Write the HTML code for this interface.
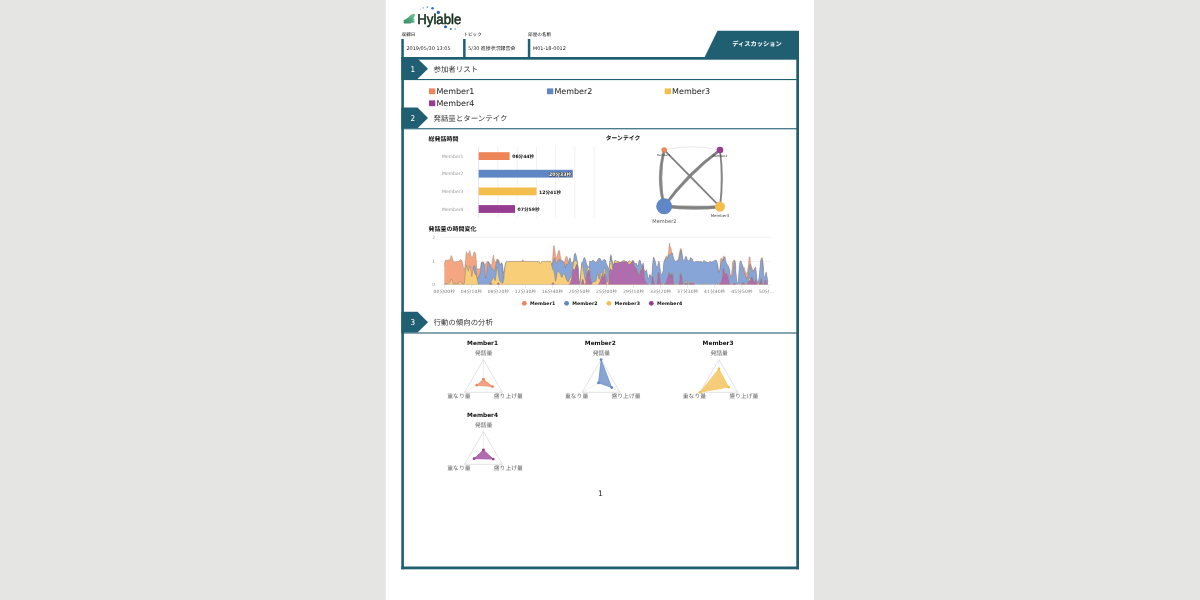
<!DOCTYPE html>
<html lang="ja"><head><meta charset="utf-8"><title>Hylable Discussion Report</title>
<style>html,body{margin:0;padding:0;background:#e5e5e3;overflow:hidden}svg text{white-space:pre;text-rendering:geometricPrecision}</style></head>
<body>
<svg width="1200" height="600" viewBox="0 0 1200 600" style="display:block">
<rect width="1200" height="600" fill="#e5e5e3"/>
<rect x="385.8" y="0" width="428.2" height="600" fill="#fff"/>
<defs><linearGradient id="fg" x1="1" y1="0" x2="0" y2="1"><stop offset="0" stop-color="#6cc79c"/><stop offset="0.55" stop-color="#3a9a6e"/><stop offset="1" stop-color="#2a7d57"/></linearGradient></defs>
<path d="M403.2,20.7 Q406,18.6 408.2,17.4 Q409.8,15.6 411.4,14.6 Q413,13.7 414.8,13.9 Q415.4,14.6 415,15.6 Q414.4,17 413.9,17.8 L413.3,19 L414.6,19.5 L414.5,20.4 L412.6,20.7 L414.8,21.5 L414.6,22.6 L411.2,22.8 L410.6,23.6 L404.2,23.5 L403.4,22.6 L404,21.6 Z" fill="url(#fg)" fill-opacity="0.92"/>
<text x="417.3" y="23.6" font-family="'Liberation Sans',sans-serif" font-weight="normal" font-size="14" fill="#17301f" stroke="#17301f" stroke-width="0.6" textLength="44" lengthAdjust="spacingAndGlyphs">Hylable</text>
<circle cx="417.8" cy="11.2" r="0.55" fill="#d5e6f5"/>
<circle cx="420.2" cy="9.4" r="0.7" fill="#c0daf0"/>
<circle cx="423.2" cy="7.9" r="0.8" fill="#8fbce6"/>
<circle cx="427.3" cy="7.1" r="0.85" fill="#5b97d8"/>
<circle cx="432.5" cy="8.3" r="1.25" fill="#2f6fc8"/>
<circle cx="438.3" cy="12.4" r="1.65" fill="#1f5fc0"/>
<circle cx="445.5" cy="26.8" r="1.5" fill="#1f5fc0"/>
<circle cx="450.8" cy="29.0" r="1.1" fill="#3d7bcc"/>
<circle cx="455.2" cy="29.1" r="0.8" fill="#7aaee0"/>
<circle cx="458" cy="27.5" r="0.7" fill="#bcd8f0"/>
<circle cx="460.2" cy="25.4" r="0.6" fill="#dceaf6"/>
<text x="401.6" y="36.4" font-family="'DejaVu Sans','Noto Sans CJK JP',sans-serif" font-size="4.6" font-weight="normal" fill="#111" text-anchor="start" >収録日</text>
<text x="406.40000000000003" y="49.7" font-family="'DejaVu Sans','Noto Sans CJK JP',sans-serif" font-size="4.95" font-weight="normal" fill="#222" text-anchor="start" >2019/05/30 13:05</text>
<rect x="401.3" y="39" width="2.5" height="19" fill="#205f72"/>
<text x="463.40000000000003" y="36.4" font-family="'DejaVu Sans','Noto Sans CJK JP',sans-serif" font-size="4.6" font-weight="normal" fill="#111" text-anchor="start" >トピック</text>
<text x="468.20000000000005" y="49.7" font-family="'DejaVu Sans','Noto Sans CJK JP',sans-serif" font-size="4.95" font-weight="normal" fill="#222" text-anchor="start" >5/30 進捗状況報告会</text>
<rect x="463.1" y="39" width="2.5" height="19" fill="#205f72"/>
<text x="528.0999999999999" y="36.4" font-family="'DejaVu Sans','Noto Sans CJK JP',sans-serif" font-size="4.6" font-weight="normal" fill="#111" text-anchor="start" >部屋の名前</text>
<text x="532.9" y="49.7" font-family="'DejaVu Sans','Noto Sans CJK JP',sans-serif" font-size="4.95" font-weight="normal" fill="#222" text-anchor="start" >M01-18-0012</text>
<rect x="527.8" y="39" width="2.5" height="19" fill="#205f72"/>
<rect x="401.3" y="57" width="397.7" height="2.7" fill="#205f72"/>
<rect x="401.3" y="57" width="2.6" height="512.3" fill="#205f72"/>
<rect x="796.3" y="31" width="2.7" height="538.3" fill="#205f72"/>
<rect x="401.3" y="566.5" width="397.7" height="2.8" fill="#205f72"/>
<polygon points="717.5,30.8 799,30.8 799,58 704.2,58" fill="#205f72"/>
<text x="757" y="45.8" font-family="'DejaVu Sans','Noto Sans CJK JP',sans-serif" font-size="6.25" font-weight="bold" fill="#fff" text-anchor="middle" >ディスカッション</text>
<polygon points="401.3,58.4 417.5,58.4 428,68.70 417.5,79.00 401.3,79.00" fill="#205f72"/>
<rect x="401.3" y="79.00" width="397.7" height="1.1" fill="#205f72"/>
<text x="412.8" y="71.7" font-family="'DejaVu Sans Condensed','DejaVu Sans',sans-serif" font-size="8.0" font-weight="normal" fill="#fff" text-anchor="middle" >1</text>
<text x="433.5" y="71.60000000000001" font-family="'DejaVu Sans','Noto Sans CJK JP',sans-serif" font-size="7.45" font-weight="normal" fill="#333" text-anchor="start" >参加者リスト</text>
<polygon points="401.3,107.6 417.5,107.6 428,117.90 417.5,128.20 401.3,128.20" fill="#205f72"/>
<rect x="401.3" y="128.20" width="397.7" height="1.1" fill="#205f72"/>
<text x="412.8" y="120.89999999999999" font-family="'DejaVu Sans Condensed','DejaVu Sans',sans-serif" font-size="8.0" font-weight="normal" fill="#fff" text-anchor="middle" >2</text>
<text x="433.5" y="120.8" font-family="'DejaVu Sans','Noto Sans CJK JP',sans-serif" font-size="7.45" font-weight="normal" fill="#333" text-anchor="start" >発話量とターンテイク</text>
<polygon points="401.3,311.85 417.5,311.85 428,322.15 417.5,332.45 401.3,332.45" fill="#205f72"/>
<rect x="401.3" y="332.45" width="397.7" height="1.1" fill="#205f72"/>
<text x="412.8" y="325.15000000000003" font-family="'DejaVu Sans Condensed','DejaVu Sans',sans-serif" font-size="8.0" font-weight="normal" fill="#fff" text-anchor="middle" >3</text>
<text x="433.5" y="325.05" font-family="'DejaVu Sans','Noto Sans CJK JP',sans-serif" font-size="7.45" font-weight="normal" fill="#333" text-anchor="start" >行動の傾向の分析</text>
<rect x="429" y="88.4" width="6.3" height="5.8" fill="#ee8558"/>
<text x="436.4" y="93.7" font-family="'DejaVu Sans','Noto Sans CJK JP',sans-serif" font-size="8.0" font-weight="normal" fill="#222" text-anchor="start" >Member1</text>
<rect x="547" y="88.4" width="6.3" height="5.8" fill="#5f87c6"/>
<text x="554.4" y="93.7" font-family="'DejaVu Sans','Noto Sans CJK JP',sans-serif" font-size="8.0" font-weight="normal" fill="#222" text-anchor="start" >Member2</text>
<rect x="664.7" y="88.4" width="6.3" height="5.8" fill="#f3be4c"/>
<text x="672.1" y="93.7" font-family="'DejaVu Sans','Noto Sans CJK JP',sans-serif" font-size="8.0" font-weight="normal" fill="#222" text-anchor="start" >Member3</text>
<rect x="429" y="100.4" width="6.3" height="5.8" fill="#963d93"/>
<text x="436.4" y="105.7" font-family="'DejaVu Sans','Noto Sans CJK JP',sans-serif" font-size="8.0" font-weight="normal" fill="#222" text-anchor="start" >Member4</text>
<text x="428.5" y="140.8" font-family="'DejaVu Sans','Noto Sans CJK JP',sans-serif" font-size="6.0" font-weight="bold" fill="#111" text-anchor="start" >総発話時間</text>
<rect x="478.30" y="146.8" width="0.7" height="70.8" fill="#d9dcef"/>
<rect x="497.55" y="146.8" width="0.7" height="70.8" fill="#ececec"/>
<rect x="516.80" y="146.8" width="0.7" height="70.8" fill="#ececec"/>
<rect x="536.05" y="146.8" width="0.7" height="70.8" fill="#ececec"/>
<rect x="555.30" y="146.8" width="0.7" height="70.8" fill="#ececec"/>
<rect x="574.55" y="146.8" width="0.7" height="70.8" fill="#ececec"/>
<rect x="593.80" y="146.8" width="0.7" height="70.8" fill="#ececec"/>
<rect x="478.7" y="152.2" width="30.9" height="7.8" fill="#ee8558"/>
<text x="442" y="157.79999999999998" font-family="'DejaVu Sans','Noto Sans CJK JP',sans-serif" font-size="4.5" font-weight="normal" fill="#999" text-anchor="start" >Member1</text>
<text x="512.2" y="158.29999999999998" font-family="'DejaVu Sans','Noto Sans CJK JP',sans-serif" font-size="4.6" font-weight="bold" fill="#111" text-anchor="start" >06分44秒</text>
<rect x="478.7" y="169.8" width="94.1" height="7.8" fill="#5f87c6"/>
<text x="442" y="175.4" font-family="'DejaVu Sans','Noto Sans CJK JP',sans-serif" font-size="4.5" font-weight="normal" fill="#999" text-anchor="start" >Member2</text>
<text x="571.0" y="175.70000000000002" font-family="'DejaVu Sans','Noto Sans CJK JP',sans-serif" font-size="4.6" font-weight="bold" fill="#fff" text-anchor="end" stroke="#333" stroke-width="0.9" paint-order="stroke" stroke-linejoin="round">20分33秒</text>
<rect x="478.7" y="187.5" width="57.8" height="7.8" fill="#f3be4c"/>
<text x="442" y="193.1" font-family="'DejaVu Sans','Noto Sans CJK JP',sans-serif" font-size="4.5" font-weight="normal" fill="#999" text-anchor="start" >Member3</text>
<text x="539.1" y="193.6" font-family="'DejaVu Sans','Noto Sans CJK JP',sans-serif" font-size="4.6" font-weight="bold" fill="#111" text-anchor="start" >12分41秒</text>
<rect x="478.7" y="205.1" width="36.3" height="7.8" fill="#963d93"/>
<text x="442" y="210.7" font-family="'DejaVu Sans','Noto Sans CJK JP',sans-serif" font-size="4.5" font-weight="normal" fill="#999" text-anchor="start" >Member4</text>
<text x="517.6" y="211.2" font-family="'DejaVu Sans','Noto Sans CJK JP',sans-serif" font-size="4.6" font-weight="bold" fill="#111" text-anchor="start" >07分59秒</text>
<text x="605.8" y="140.3" font-family="'DejaVu Sans','Noto Sans CJK JP',sans-serif" font-size="5.8" font-weight="bold" fill="#111" text-anchor="start" >ターンテイク</text>
<path d="M664.2,150.0 Q692.1,143.6 720.0,150.0" fill="none" stroke="#c8c8c8" stroke-width="0.4" stroke-opacity="1"/>
<path d="M664.2,150.0 Q658.0,178.2 664.2,206.3" fill="none" stroke="#7a7a7a" stroke-width="2.3" stroke-opacity="0.8"/>
<path d="M664.2,150.0 Q655.8,178.2 664.2,206.3" fill="none" stroke="#7a7a7a" stroke-width="2.3" stroke-opacity="0.8"/>
<path d="M720.0,150.0 Q723.0,178.3 720.0,206.7" fill="none" stroke="#7a7a7a" stroke-width="1.5" stroke-opacity="0.8"/>
<path d="M720.0,150.0 Q724.4,178.3 720.0,206.7" fill="none" stroke="#7a7a7a" stroke-width="1.5" stroke-opacity="0.8"/>
<path d="M664.2,206.3 Q692.1,207.9 720.0,206.7" fill="none" stroke="#7a7a7a" stroke-width="2.9" stroke-opacity="0.8"/>
<path d="M664.2,206.3 Q692.1,210.3 720.0,206.7" fill="none" stroke="#7a7a7a" stroke-width="2.9" stroke-opacity="0.8"/>
<path d="M664.2,150.0 Q691.7,178.8 720.0,206.7" fill="none" stroke="#7a7a7a" stroke-width="1.6" stroke-opacity="0.8"/>
<path d="M664.2,150.0 Q692.5,177.9 720.0,206.7" fill="none" stroke="#7a7a7a" stroke-width="1.6" stroke-opacity="0.8"/>
<path d="M664.2,206.3 Q688.3,174.3 720.0,150.0" fill="none" stroke="#7a7a7a" stroke-width="2.5" stroke-opacity="0.8"/>
<path d="M664.2,206.3 Q687.0,173.1 720.0,150.0" fill="none" stroke="#7a7a7a" stroke-width="2.5" stroke-opacity="0.8"/>
<circle cx="664.2" cy="150.0" r="2.8" fill="#ee8558"/>
<circle cx="720.0" cy="150.0" r="3.3" fill="#963d93"/>
<circle cx="664.2" cy="206.3" r="8" fill="#5f87c6"/>
<circle cx="720.0" cy="206.7" r="5" fill="#f3be4c"/>
<text x="652.3" y="222.6" font-family="'DejaVu Sans','Noto Sans CJK JP',sans-serif" font-size="5.3" font-weight="normal" fill="#555" text-anchor="start" textLength="24.2" lengthAdjust="spacingAndGlyphs">Member2</text>
<text x="720" y="217.3" font-family="'DejaVu Sans','Noto Sans CJK JP',sans-serif" font-size="3.9" font-weight="normal" fill="#444" text-anchor="middle" >Member3</text>
<text x="663.6" y="156.4" font-family="'DejaVu Sans','Noto Sans CJK JP',sans-serif" font-size="2.8" font-weight="normal" fill="#333" text-anchor="middle" >Member1</text>
<text x="719.8" y="157.3" font-family="'DejaVu Sans','Noto Sans CJK JP',sans-serif" font-size="3.1" font-weight="normal" fill="#333" text-anchor="middle" >Member4</text>
<text x="428.5" y="230.9" font-family="'DejaVu Sans','Noto Sans CJK JP',sans-serif" font-size="6.0" font-weight="bold" fill="#111" text-anchor="start" >発話量の時間変化</text>
<rect x="441" y="236.9" width="330" height="0.6" fill="#ececec"/>
<text x="433.8" y="239.0" font-family="'DejaVu Sans','Noto Sans CJK JP',sans-serif" font-size="4.5" font-weight="normal" fill="#999" text-anchor="middle" >2</text>
<rect x="441" y="261.2" width="330" height="0.6" fill="#ececec"/>
<text x="433.8" y="263.3" font-family="'DejaVu Sans','Noto Sans CJK JP',sans-serif" font-size="4.5" font-weight="normal" fill="#999" text-anchor="middle" >1</text>
<rect x="441" y="284.3" width="330" height="0.6" fill="#ececec"/>
<text x="433.8" y="286.40000000000003" font-family="'DejaVu Sans','Noto Sans CJK JP',sans-serif" font-size="4.5" font-weight="normal" fill="#999" text-anchor="middle" >0</text>
<polygon points="444.33,284.58 444.33,266.67 444.83,262.29 445.33,260.50 445.83,260.00 446.33,260.17 446.83,260.33 447.33,260.33 447.83,260.17 448.33,260.00 448.83,259.88 449.33,259.75 449.83,259.62 450.33,258.47 450.83,256.81 451.33,255.58 451.83,256.58 452.33,257.58 452.83,259.48 453.33,261.83 453.83,261.83 454.33,261.83 454.83,261.83 455.33,261.79 455.83,261.72 456.33,261.65 456.83,261.58 457.33,261.51 457.83,261.44 458.33,261.37 458.83,261.30 459.33,260.99 459.83,260.23 460.33,259.46 460.83,259.65 461.33,260.03 461.83,260.42 462.33,262.15 462.83,263.88 463.33,266.67 463.83,269.21 464.33,269.46 464.83,266.96 465.33,261.71 465.83,256.04 466.33,251.47 466.83,252.81 467.33,254.14 467.83,254.14 468.33,253.47 468.83,252.72 469.33,251.57 469.83,250.42 470.33,252.71 470.83,255.00 471.33,256.33 471.83,257.67 472.33,257.58 472.83,256.08 473.33,254.23 473.83,252.31 474.33,251.86 474.83,252.16 475.33,252.45 475.83,255.83 476.33,260.36 476.83,267.50 477.33,268.75 477.83,269.08 478.33,268.96 478.83,268.83 479.33,268.81 479.83,268.97 480.33,269.14 480.83,265.83 481.33,262.46 481.83,262.19 482.33,261.92 482.83,261.90 483.33,262.00 483.83,262.46 484.33,264.71 484.83,265.33 485.33,264.33 485.83,263.39 486.33,262.46 486.83,261.80 487.33,261.70 487.83,261.60 488.33,261.50 488.83,262.23 489.33,262.97 489.83,263.67 490.33,264.33 490.83,265.00 491.33,264.58 491.83,264.17 492.33,260.42 492.83,257.50 493.33,255.00 493.83,257.50 494.33,259.75 494.83,261.50 495.33,262.25 495.83,262.50 496.33,260.25 496.83,258.86 497.33,259.19 497.83,259.53 498.33,259.79 498.83,260.33 499.33,262.33 499.83,263.72 500.33,264.49 500.83,264.42 501.33,262.67 501.83,262.92 502.33,264.17 502.83,268.75 503.33,273.33 503.83,271.33 504.33,269.00 504.83,266.00 505.33,264.16 505.83,262.89 506.33,261.82 506.83,261.74 507.33,261.66 507.83,261.58 508.33,261.50 508.83,261.49 509.33,261.48 509.83,261.47 510.33,261.46 510.83,261.45 511.33,261.44 511.83,261.43 512.33,261.41 512.83,261.40 513.33,261.39 513.83,261.38 514.33,261.37 514.83,261.36 515.00,261.50 515.50,261.48 516.00,261.46 516.50,261.44 517.00,261.43 517.50,261.41 518.00,261.39 518.50,261.37 519.00,261.35 519.50,261.33 520.00,261.31 520.50,261.29 521.00,261.27 521.50,261.26 522.00,260.69 522.50,259.86 523.00,260.10 523.50,260.87 524.00,261.25 524.50,261.26 525.00,261.27 525.50,261.28 526.00,261.29 526.50,261.30 527.00,261.31 527.50,261.32 528.00,261.33 528.50,261.34 529.00,261.35 529.50,261.35 530.00,261.36 530.50,261.37 531.00,261.38 531.50,261.39 532.00,261.40 532.50,261.41 533.00,261.42 533.50,261.43 534.00,261.44 534.50,261.45 535.00,261.45 535.50,261.46 536.00,261.47 536.50,261.48 537.00,261.49 537.50,261.50 538.00,261.23 538.50,260.97 539.00,261.58 539.50,263.08 540.00,263.39 540.50,263.46 541.00,263.05 541.50,261.70 542.00,261.25 542.50,261.25 543.00,261.25 543.50,261.25 544.00,261.25 544.50,261.25 545.00,261.25 545.50,261.58 546.00,261.92 546.50,261.83 547.00,261.33 547.50,261.25 548.00,261.25 548.50,261.25 549.00,261.25 549.50,261.25 550.00,261.25 550.50,261.25 551.00,262.00 551.50,264.25 552.00,263.33 552.50,260.83 553.00,252.33 553.50,246.33 554.00,245.33 554.50,247.33 555.00,250.83 555.50,255.08 556.00,257.75 556.50,257.25 557.00,256.75 557.50,254.72 558.00,252.39 558.50,250.78 559.00,250.61 559.50,250.44 560.00,253.46 560.50,257.12 561.00,259.03 561.50,260.07 562.00,260.63 562.50,260.96 563.00,261.28 563.50,261.58 564.00,261.81 564.50,262.04 565.00,259.79 565.50,257.39 566.00,256.72 566.50,256.06 567.00,256.67 567.50,257.92 568.00,260.83 568.50,262.50 569.00,260.00 569.50,258.50 570.00,257.50 570.50,259.58 571.00,261.67 571.50,262.24 572.00,262.82 572.50,262.50 573.00,262.00 573.50,260.42 574.00,256.67 574.50,253.97 575.00,253.40 575.50,253.21 576.00,254.94 576.50,256.67 577.00,259.67 577.50,262.64 578.00,265.56 578.50,270.33 579.00,278.83 579.50,282.33 580.00,283.33 580.50,276.33 581.00,269.67 581.50,263.67 582.00,262.08 582.50,262.71 583.00,261.25 583.50,258.75 584.00,257.98 584.50,257.21 585.00,258.21 585.50,259.55 586.00,261.39 586.50,263.47 587.00,264.83 587.50,265.83 588.00,266.73 588.50,267.12 589.00,267.50 589.50,261.79 590.00,260.83 590.50,261.33 591.00,261.83 591.50,261.75 592.00,261.08 592.50,260.42 593.00,260.42 593.50,260.42 594.00,260.67 594.50,261.17 595.00,261.67 595.50,262.29 596.00,262.92 596.50,261.96 597.00,260.99 597.50,260.14 598.00,259.31 598.50,258.64 599.00,258.31 599.50,257.97 600.00,258.47 600.50,259.14 601.00,260.08 601.50,261.58 602.00,261.64 602.50,260.97 603.00,260.34 603.50,259.91 604.00,259.48 604.50,259.51 605.00,259.78 605.50,260.33 606.00,262.33 606.50,263.83 607.00,264.83 607.50,265.83 608.00,267.17 608.50,268.50 609.00,267.92 609.50,265.42 610.00,260.00 610.50,254.96 611.00,254.71 611.50,256.21 612.00,259.46 612.50,262.08 613.00,264.25 613.50,264.75 614.00,263.62 614.50,260.88 615.00,260.42 615.50,260.42 616.00,260.58 616.50,261.08 617.00,261.58 617.50,261.53 618.00,261.36 618.50,261.42 619.00,261.92 619.50,262.42 620.00,262.36 620.50,262.19 621.00,262.01 621.50,261.77 622.00,261.54 622.50,261.22 623.00,260.89 623.50,260.62 624.00,260.50 624.50,260.61 625.00,261.19 625.50,261.68 626.00,261.74 626.50,261.81 627.00,262.12 627.50,262.56 628.00,262.76 628.50,261.79 629.00,260.83 629.50,260.73 630.00,260.97 630.50,261.89 631.00,262.39 631.50,262.06 632.00,261.72 632.50,261.03 633.00,260.26 633.50,260.83 634.00,262.08 634.50,262.94 635.00,263.61 635.50,264.00 636.00,263.00 636.50,263.25 637.00,264.75 637.50,265.42 638.00,265.44 638.50,263.11 639.00,260.78 639.50,260.00 640.00,260.00 640.50,261.28 641.00,263.21 641.50,264.67 642.00,265.67 642.50,264.50 643.00,262.90 643.50,263.63 644.00,269.03 644.50,271.06 645.00,271.39 645.50,271.51 646.00,270.54 646.50,269.58 647.00,272.29 647.50,275.00 648.00,278.00 648.50,279.17 649.00,276.67 649.50,274.83 650.00,274.33 650.50,275.50 651.00,277.50 651.50,276.88 652.00,272.00 652.50,265.00 653.00,260.00 653.50,256.94 654.00,257.78 654.50,258.85 655.00,260.38 655.50,262.08 656.00,264.58 656.50,266.51 657.00,267.85 657.50,267.57 658.00,264.03 658.50,261.58 659.00,261.33 659.50,263.75 660.00,267.50 660.50,271.00 661.00,273.67 661.50,274.67 662.00,274.11 662.50,272.78 663.00,270.67 663.50,264.67 664.00,261.17 664.50,260.17 665.00,259.17 665.50,257.67 666.00,256.17 666.50,255.92 667.00,256.92 667.50,257.92 668.00,255.21 668.50,252.50 669.00,246.25 669.50,243.00 670.00,245.75 670.50,247.17 671.00,247.92 671.50,250.67 672.00,252.67 672.50,253.17 673.00,255.33 673.50,258.33 674.00,259.29 674.50,260.26 675.00,260.89 675.50,261.46 676.00,261.64 676.50,261.08 677.00,260.51 677.50,260.00 678.00,259.50 678.50,258.19 679.00,255.28 679.50,252.56 680.00,250.26 680.50,248.40 681.00,248.78 681.50,249.17 682.00,253.17 682.50,256.83 683.00,259.83 683.50,260.71 684.00,260.54 684.50,259.84 685.00,258.11 685.50,256.67 686.00,256.67 686.50,256.67 687.00,258.54 687.50,260.42 688.00,260.58 688.50,260.75 689.00,260.64 689.50,260.26 690.00,259.29 690.50,257.56 691.00,257.95 691.50,258.33 692.00,258.58 692.50,259.30 693.00,260.95 693.50,261.69 694.00,261.99 694.50,261.93 695.00,261.69 695.50,261.50 696.00,261.50 696.50,261.50 697.00,261.50 697.50,261.50 698.00,261.50 698.50,261.50 699.00,261.50 699.50,261.50 700.00,261.50 700.50,261.50 701.00,261.50 701.50,261.50 702.00,262.07 702.50,262.92 703.00,261.88 703.50,260.83 704.00,260.58 704.50,260.63 705.00,261.29 705.50,261.85 706.00,261.92 706.50,262.00 707.00,262.07 707.50,262.50 708.00,262.84 708.50,262.41 709.00,261.98 709.50,261.74 710.00,261.61 710.50,261.54 711.00,261.77 711.50,262.01 712.00,261.97 712.50,261.79 713.00,261.62 713.50,261.36 714.00,260.92 714.50,260.49 715.00,260.28 715.50,260.11 716.00,260.14 716.50,260.56 717.00,261.67 717.50,264.17 718.00,267.67 718.50,271.67 719.00,271.92 719.50,270.73 720.00,266.67 720.50,260.10 721.00,258.06 721.50,258.26 722.00,259.33 722.50,260.83 723.00,257.83 723.50,255.97 724.00,256.39 724.50,257.25 725.00,256.67 725.50,259.67 726.00,262.00 726.50,263.00 727.00,264.00 727.50,264.72 728.00,265.39 728.50,266.25 729.00,267.50 729.50,269.67 730.00,273.67 730.50,276.04 731.00,276.33 731.50,274.08 732.00,268.33 732.50,262.85 733.00,261.39 733.50,260.36 734.00,260.19 734.50,260.03 735.00,260.83 735.50,263.10 736.00,271.67 736.50,277.67 737.00,282.19 737.50,283.75 738.00,282.00 738.50,278.17 739.00,270.17 739.50,265.00 740.00,261.25 740.50,261.04 741.00,260.83 741.50,262.33 742.00,263.85 742.50,265.38 743.00,266.75 743.50,267.25 744.00,267.14 744.50,267.71 745.00,270.83 745.50,271.83 746.00,272.67 746.50,273.17 747.00,272.67 747.50,271.67 748.00,267.67 748.50,263.42 749.00,258.67 749.50,256.92 750.00,256.67 750.50,262.29 751.00,265.17 751.50,266.67 752.00,267.92 752.50,269.17 753.00,269.83 753.50,270.50 754.00,270.08 754.50,268.58 755.00,267.50 755.50,267.08 756.00,269.58 756.50,273.58 757.00,279.08 757.50,281.67 758.00,283.00 758.50,281.00 759.00,277.50 759.50,272.50 760.00,266.67 760.50,261.33 761.00,259.33 761.50,257.95 762.00,257.18 762.50,258.17 763.00,262.67 763.50,270.36 764.00,276.00 764.50,278.00 765.00,276.25 765.50,273.88 766.00,272.12 766.50,272.88 767.00,276.12 767.50,279.17 768.00,282.25 768.00,284.58" fill="#f4a581"/>
<polygon points="444.33,284.58 444.33,283.33 444.83,283.65 445.33,283.75 445.83,283.75 446.33,283.75 446.83,283.71 447.33,283.58 447.83,283.46 448.33,283.33 448.83,282.93 449.33,282.53 449.83,282.13 450.33,281.73 450.83,280.21 451.33,278.91 451.83,279.87 452.33,280.83 452.83,283.33 453.33,283.75 453.83,283.75 454.33,283.75 454.83,283.75 455.33,283.75 455.83,283.75 456.33,283.75 456.83,283.75 457.33,283.75 457.83,283.75 458.33,283.75 458.83,283.58 459.33,282.58 459.83,281.83 460.33,281.33 460.83,281.89 461.33,282.66 461.83,283.63 462.33,284.17 462.83,284.17 463.33,284.17 463.83,284.17 464.33,283.12 464.83,280.00 465.33,272.86 465.83,268.33 466.33,265.26 466.83,266.79 467.33,268.33 467.83,269.79 468.33,271.25 468.83,269.38 469.33,267.50 469.83,266.00 470.33,266.33 470.83,270.33 471.33,274.58 471.83,276.67 472.33,274.17 472.83,271.00 473.33,267.50 473.83,266.00 474.33,265.22 474.83,265.89 475.33,266.56 475.83,268.89 476.33,271.56 476.83,275.67 477.33,278.83 477.83,278.17 478.33,277.50 478.83,276.50 479.33,275.50 479.83,274.00 480.33,272.00 480.83,267.29 481.33,262.86 481.83,262.53 482.33,262.19 482.83,262.15 483.33,262.25 483.83,262.77 484.33,265.37 484.83,269.67 485.33,275.67 485.83,278.45 486.33,276.25 486.83,271.67 487.33,266.67 487.83,263.73 488.33,261.83 488.83,262.48 489.33,263.33 489.83,264.58 490.33,265.67 490.83,266.67 491.33,267.58 491.83,268.08 492.33,268.58 492.83,269.31 493.33,270.14 493.83,270.92 494.33,271.42 494.83,270.42 495.33,267.92 495.83,265.42 496.33,263.11 496.83,261.78 497.33,260.44 497.83,260.00 498.33,260.00 498.83,261.88 499.33,263.75 499.83,264.33 500.33,264.90 500.83,264.42 501.33,262.74 501.83,263.23 502.33,264.58 502.83,269.83 503.33,275.24 503.83,279.00 504.33,273.00 504.83,268.25 505.33,264.75 505.83,263.00 506.33,261.82 506.83,261.74 507.33,261.66 507.83,261.58 508.33,261.50 508.83,261.49 509.33,261.48 509.83,261.47 510.33,261.46 510.83,261.45 511.33,261.44 511.83,261.43 512.33,261.41 512.83,261.40 513.33,261.39 513.83,261.38 514.33,261.37 514.83,261.36 515.00,261.50 515.50,261.48 516.00,261.46 516.50,261.44 517.00,261.43 517.50,261.41 518.00,261.39 518.50,261.37 519.00,261.35 519.50,261.33 520.00,261.31 520.50,261.29 521.00,261.27 521.50,261.26 522.00,261.50 522.50,261.50 523.00,261.50 523.50,261.50 524.00,261.25 524.50,261.26 525.00,261.27 525.50,261.28 526.00,261.29 526.50,261.30 527.00,261.31 527.50,261.32 528.00,261.33 528.50,261.34 529.00,261.35 529.50,261.35 530.00,261.36 530.50,261.37 531.00,261.38 531.50,261.39 532.00,261.40 532.50,261.41 533.00,261.42 533.50,261.43 534.00,261.44 534.50,261.45 535.00,261.45 535.50,261.46 536.00,261.47 536.50,261.48 537.00,261.49 537.50,261.50 538.00,261.23 538.50,260.97 539.00,261.58 539.50,263.08 540.00,263.39 540.50,263.46 541.00,263.05 541.50,261.70 542.00,261.25 542.50,261.25 543.00,261.25 543.50,261.25 544.00,261.25 544.50,261.25 545.00,261.25 545.50,261.58 546.00,261.92 546.50,261.83 547.00,261.33 547.50,261.25 548.00,261.25 548.50,261.25 549.00,261.25 549.50,261.25 550.00,261.25 550.50,261.25 551.00,262.00 551.50,264.25 552.00,264.83 552.50,263.33 553.00,262.33 553.50,260.92 554.00,258.67 554.50,257.92 555.00,257.92 555.50,261.17 556.00,263.28 556.50,263.11 557.00,262.94 557.50,261.94 558.00,260.78 558.50,259.92 559.00,259.67 559.50,259.42 560.00,259.17 560.50,259.92 561.00,260.47 561.50,260.64 562.00,260.81 562.50,261.17 563.00,261.57 563.50,262.14 564.00,263.08 564.50,264.01 565.00,266.25 565.50,267.92 566.00,265.42 566.50,264.04 567.00,263.79 567.50,264.17 568.00,264.42 568.50,262.50 569.00,260.00 569.50,258.50 570.00,257.50 570.50,259.58 571.00,261.67 571.50,262.24 572.00,262.82 572.50,262.50 573.00,262.00 573.50,260.42 574.00,256.67 574.50,253.97 575.00,253.40 575.50,253.21 576.00,254.94 576.50,256.67 577.00,259.67 577.50,262.64 578.00,265.56 578.50,270.33 579.00,278.83 579.50,282.33 580.00,283.33 580.50,276.33 581.00,269.67 581.50,263.67 582.00,262.08 582.50,262.71 583.00,261.25 583.50,258.75 584.00,257.98 584.50,257.21 585.00,258.21 585.50,259.55 586.00,261.39 586.50,263.47 587.00,264.83 587.50,265.83 588.00,266.73 588.50,267.12 589.00,267.50 589.50,261.79 590.00,260.83 590.50,261.33 591.00,261.83 591.50,261.75 592.00,261.08 592.50,260.42 593.00,260.42 593.50,260.42 594.00,260.67 594.50,261.17 595.00,261.67 595.50,262.29 596.00,262.92 596.50,261.96 597.00,260.99 597.50,260.14 598.00,259.31 598.50,258.64 599.00,258.31 599.50,257.97 600.00,258.47 600.50,259.14 601.00,260.08 601.50,261.58 602.00,261.64 602.50,260.97 603.00,260.34 603.50,259.91 604.00,259.48 604.50,259.51 605.00,259.78 605.50,260.33 606.00,262.33 606.50,263.83 607.00,264.83 607.50,265.83 608.00,267.17 608.50,268.50 609.00,267.92 609.50,265.42 610.00,260.00 610.50,256.98 611.00,256.25 611.50,256.25 612.00,259.46 612.50,262.08 613.00,264.25 613.50,264.75 614.00,263.62 614.50,260.88 615.00,260.42 615.50,260.42 616.00,260.58 616.50,261.08 617.00,261.58 617.50,261.53 618.00,261.36 618.50,261.42 619.00,261.92 619.50,262.42 620.00,262.36 620.50,262.19 621.00,262.01 621.50,261.77 622.00,261.54 622.50,261.22 623.00,260.89 623.50,260.62 624.00,260.50 624.50,260.61 625.00,261.19 625.50,261.68 626.00,261.74 626.50,261.81 627.00,262.12 627.50,262.56 628.00,262.76 628.50,261.79 629.00,260.83 629.50,260.73 630.00,260.97 630.50,261.89 631.00,262.39 631.50,262.06 632.00,261.72 632.50,261.03 633.00,260.26 633.50,260.83 634.00,262.08 634.50,262.94 635.00,263.61 635.50,264.00 636.00,263.00 636.50,263.25 637.00,264.75 637.50,265.42 638.00,265.44 638.50,263.11 639.00,260.78 639.50,260.00 640.00,260.00 640.50,261.28 641.00,263.21 641.50,264.67 642.00,265.67 642.50,264.50 643.00,262.90 643.50,263.63 644.00,269.03 644.50,271.06 645.00,271.39 645.50,271.51 646.00,270.54 646.50,269.58 647.00,272.29 647.50,275.00 648.00,278.00 648.50,279.17 649.00,276.67 649.50,274.83 650.00,274.33 650.50,275.50 651.00,277.50 651.50,276.88 652.00,272.00 652.50,265.00 653.00,260.00 653.50,256.94 654.00,257.78 654.50,258.85 655.00,260.38 655.50,262.08 656.00,264.58 656.50,266.51 657.00,267.85 657.50,267.57 658.00,264.03 658.50,261.58 659.00,261.33 659.50,263.75 660.00,267.50 660.50,271.00 661.00,273.67 661.50,274.67 662.00,274.11 662.50,272.78 663.00,270.67 663.50,264.67 664.00,261.17 664.50,261.15 665.00,260.00 665.50,259.17 666.00,258.33 666.50,258.17 667.00,258.67 667.50,259.17 668.00,257.29 668.50,255.42 669.00,254.92 669.50,254.67 670.00,254.92 670.50,254.67 671.00,254.17 671.50,253.27 672.00,252.80 672.50,253.20 673.00,255.33 673.50,258.33 674.00,259.29 674.50,260.26 675.00,260.89 675.50,261.46 676.00,261.64 676.50,261.08 677.00,260.51 677.50,261.33 678.00,260.75 678.50,260.25 679.00,258.85 679.50,256.54 680.00,254.00 680.50,251.00 681.00,250.33 681.50,250.83 682.00,254.33 682.50,257.74 683.00,259.83 683.50,260.71 684.00,260.54 684.50,259.84 685.00,258.11 685.50,256.67 686.00,256.67 686.50,256.67 687.00,258.54 687.50,260.42 688.00,260.58 688.50,260.75 689.00,260.64 689.50,260.26 690.00,259.29 690.50,257.56 691.00,257.95 691.50,258.33 692.00,258.58 692.50,259.30 693.00,260.95 693.50,261.69 694.00,261.99 694.50,261.93 695.00,261.69 695.50,261.50 696.00,261.50 696.50,261.50 697.00,261.50 697.50,261.50 698.00,261.50 698.50,261.50 699.00,261.50 699.50,261.50 700.00,261.50 700.50,261.50 701.00,261.50 701.50,261.50 702.00,262.07 702.50,262.92 703.00,261.88 703.50,260.83 704.00,260.58 704.50,260.63 705.00,261.29 705.50,261.85 706.00,261.92 706.50,262.00 707.00,262.07 707.50,262.50 708.00,262.84 708.50,262.41 709.00,261.98 709.50,261.74 710.00,261.61 710.50,261.54 711.00,261.77 711.50,262.01 712.00,261.97 712.50,261.79 713.00,261.62 713.50,261.36 714.00,260.92 714.50,260.49 715.00,260.28 715.50,260.11 716.00,260.14 716.50,260.56 717.00,261.67 717.50,264.17 718.00,268.00 718.50,272.50 719.00,272.50 719.50,271.67 720.00,269.17 720.50,266.33 721.00,263.33 721.50,262.37 722.00,261.41 722.50,260.83 723.00,259.12 723.50,258.88 724.00,258.50 724.50,258.00 725.00,256.67 725.50,259.67 726.00,262.00 726.50,263.00 727.00,264.00 727.50,264.72 728.00,265.39 728.50,266.25 729.00,267.50 729.50,269.67 730.00,275.00 730.50,276.50 731.00,277.33 731.50,276.83 732.00,276.00 732.50,275.00 733.00,271.50 733.50,267.50 734.00,262.50 734.50,260.71 735.00,260.83 735.50,263.10 736.00,271.67 736.50,277.67 737.00,282.19 737.50,283.75 738.00,282.00 738.50,278.17 739.00,270.17 739.50,265.00 740.00,261.25 740.50,261.04 741.00,260.83 741.50,262.33 742.00,263.85 742.50,265.38 743.00,267.83 743.50,269.83 744.00,271.50 744.50,272.83 745.00,274.17 745.50,275.50 746.00,276.83 746.50,278.00 747.00,279.00 747.50,277.92 748.00,275.95 748.50,271.67 749.00,267.92 749.50,265.67 750.00,264.17 750.50,264.48 751.00,266.42 751.50,269.17 752.00,270.21 752.50,271.25 753.00,271.15 753.50,271.05 754.00,270.08 754.50,268.58 755.00,267.50 755.50,267.08 756.00,269.58 756.50,273.58 757.00,279.08 757.50,281.67 758.00,283.00 758.50,281.00 759.00,277.50 759.50,272.50 760.00,266.67 760.50,261.33 761.00,259.33 761.50,258.75 762.00,259.38 762.50,261.19 763.00,264.22 763.50,270.36 764.00,276.00 764.50,278.00 765.00,276.25 765.50,273.88 766.00,272.12 766.50,272.88 767.00,276.12 767.50,279.17 768.00,282.25 768.00,284.58" fill="#87a5d6"/>
<polygon points="444.33,284.58 444.33,283.33 444.83,283.65 445.33,283.75 445.83,283.75 446.33,283.75 446.83,283.71 447.33,283.58 447.83,283.46 448.33,283.33 448.83,282.93 449.33,282.53 449.83,282.13 450.33,281.73 450.83,280.21 451.33,278.91 451.83,279.87 452.33,280.83 452.83,283.33 453.33,283.75 453.83,283.75 454.33,283.75 454.83,283.75 455.33,283.75 455.83,283.75 456.33,283.75 456.83,283.75 457.33,283.75 457.83,283.75 458.33,283.75 458.83,283.58 459.33,282.58 459.83,281.83 460.33,281.33 460.83,281.89 461.33,282.66 461.83,283.63 462.33,284.17 462.83,284.17 463.33,284.17 463.83,284.17 464.33,283.12 464.83,280.00 465.33,272.86 465.83,268.33 466.33,265.26 466.83,266.79 467.33,268.33 467.83,269.79 468.33,271.25 468.83,269.38 469.33,267.50 469.83,266.00 470.33,266.33 470.83,270.33 471.33,274.58 471.83,276.67 472.33,274.17 472.83,271.00 473.33,267.50 473.83,270.00 474.33,272.06 474.83,273.22 475.33,274.39 475.83,275.00 476.33,275.50 476.83,276.67 477.33,279.17 477.83,282.29 478.33,284.58 478.83,284.58 479.33,284.58 479.83,284.58 480.33,284.58 480.83,284.58 481.33,284.58 481.83,284.58 482.33,284.58 482.83,284.58 483.33,284.58 483.83,284.58 484.33,284.58 484.83,284.58 485.33,284.58 485.83,284.58 486.33,284.58 486.83,284.58 487.33,284.58 487.83,284.58 488.33,284.58 488.83,284.58 489.33,284.58 489.83,284.11 490.33,283.02 490.83,282.58 491.33,281.50 491.83,280.50 492.33,279.50 492.83,278.50 493.33,277.50 493.83,277.00 494.33,279.00 494.83,280.25 495.33,280.75 495.83,277.08 496.33,272.83 496.83,269.83 497.33,266.83 497.83,269.50 498.33,275.00 498.83,277.50 499.33,280.00 499.83,280.77 500.33,281.54 500.83,282.08 501.33,282.58 501.83,282.97 502.33,283.14 502.83,283.31 503.33,281.67 503.83,279.00 504.33,273.00 504.83,268.25 505.33,264.75 505.83,263.00 506.33,261.82 506.83,261.74 507.33,261.66 507.83,261.58 508.33,261.50 508.83,261.49 509.33,261.48 509.83,261.47 510.33,261.46 510.83,261.45 511.33,261.44 511.83,261.43 512.33,261.41 512.83,261.40 513.33,261.39 513.83,261.38 514.33,261.37 514.83,261.36 515.00,261.50 515.50,261.48 516.00,261.46 516.50,261.44 517.00,261.43 517.50,261.41 518.00,261.39 518.50,261.37 519.00,261.35 519.50,261.33 520.00,261.31 520.50,261.29 521.00,261.27 521.50,261.26 522.00,261.50 522.50,261.50 523.00,261.50 523.50,261.50 524.00,261.25 524.50,261.26 525.00,261.27 525.50,261.28 526.00,261.29 526.50,261.30 527.00,261.31 527.50,261.32 528.00,261.33 528.50,261.34 529.00,261.35 529.50,261.35 530.00,261.36 530.50,261.37 531.00,261.38 531.50,261.39 532.00,261.40 532.50,261.41 533.00,261.42 533.50,261.43 534.00,261.44 534.50,261.45 535.00,261.45 535.50,261.46 536.00,261.47 536.50,261.48 537.00,261.49 537.50,261.50 538.00,261.23 538.50,260.97 539.00,261.58 539.50,263.08 540.00,263.39 540.50,263.46 541.00,263.05 541.50,261.70 542.00,261.25 542.50,261.25 543.00,261.25 543.50,261.25 544.00,261.25 544.50,261.25 545.00,261.25 545.50,261.58 546.00,261.92 546.50,261.83 547.00,261.33 547.50,261.25 548.00,261.25 548.50,261.25 549.00,261.25 549.50,261.25 550.00,261.25 550.50,261.25 551.00,262.00 551.50,264.25 552.00,267.17 552.50,269.17 553.00,269.67 553.50,270.17 554.00,271.79 554.50,274.54 555.00,278.33 555.50,281.42 556.00,279.92 556.50,277.42 557.00,273.92 557.50,272.08 558.00,270.94 558.50,271.61 559.00,272.28 559.50,272.94 560.00,273.61 560.50,274.42 561.00,275.92 561.50,276.92 562.00,277.42 562.50,276.25 563.00,274.83 563.50,273.83 564.00,273.72 564.50,274.49 565.00,275.56 565.50,277.22 566.00,278.67 566.50,279.67 567.00,280.67 567.50,281.39 568.00,282.06 568.50,282.00 569.00,280.50 569.50,279.33 570.00,278.33 570.50,277.67 571.00,277.00 571.50,275.67 572.00,273.67 572.50,270.42 573.00,266.92 573.50,263.42 574.00,261.50 574.50,261.17 575.00,260.83 575.50,260.67 576.00,260.50 576.50,261.04 577.00,262.29 577.50,264.29 578.00,270.33 578.50,275.67 579.00,281.67 579.50,284.17 580.00,283.33 580.50,278.33 581.00,273.00 581.50,267.00 582.00,263.96 582.50,264.23 583.00,268.08 583.50,271.58 584.00,274.58 584.50,277.08 585.00,279.17 585.50,280.71 586.00,280.00 586.50,276.67 587.00,269.52 587.50,267.69 588.00,266.92 588.50,267.12 589.00,267.50 589.50,269.17 590.00,275.83 590.50,278.33 591.00,281.15 591.50,284.17 592.00,283.45 592.50,282.92 593.00,282.42 593.50,282.04 594.00,281.92 594.50,281.79 595.00,281.67 595.50,281.33 596.00,281.00 596.50,279.08 597.00,275.58 597.50,273.51 598.00,274.79 598.50,277.33 599.00,279.33 599.50,279.00 600.00,277.50 600.50,274.38 601.00,271.90 601.50,271.90 602.00,273.33 602.50,273.33 603.00,274.83 603.50,273.96 604.00,268.33 604.50,266.90 605.00,269.05 605.50,273.33 606.00,278.10 606.50,281.77 607.00,282.40 607.50,281.67 608.00,280.24 608.50,276.67 609.00,271.67 609.50,265.95 610.00,262.08 610.50,259.42 611.00,260.92 611.50,262.92 612.00,265.42 612.50,268.21 613.00,267.25 613.50,265.42 614.00,264.17 614.50,260.95 615.00,260.42 615.50,260.42 616.00,260.58 616.50,261.08 617.00,261.58 617.50,261.53 618.00,261.36 618.50,261.42 619.00,261.92 619.50,262.42 620.00,262.36 620.50,262.19 621.00,262.01 621.50,261.77 622.00,261.54 622.50,261.22 623.00,260.89 623.50,260.62 624.00,260.50 624.50,260.61 625.00,261.19 625.50,261.68 626.00,261.74 626.50,261.81 627.00,262.12 627.50,262.56 628.00,262.76 628.50,261.79 629.00,260.83 629.50,260.73 630.00,260.97 630.50,261.89 631.00,262.39 631.50,262.06 632.00,261.72 632.50,261.03 633.00,260.26 633.50,262.50 634.00,264.92 634.50,266.42 635.00,266.94 635.50,267.28 636.00,267.67 636.50,268.17 637.00,269.67 637.50,271.67 638.00,273.67 638.50,275.67 639.00,275.67 639.50,273.67 640.00,272.50 640.50,271.50 641.00,269.17 641.50,267.92 642.00,267.17 642.50,266.67 643.00,265.83 643.50,268.33 644.00,273.33 644.50,277.00 645.00,280.00 645.50,281.50 646.00,282.72 646.50,283.39 647.00,284.06 647.50,284.31 648.00,284.47 648.50,284.58 649.00,284.58 649.50,284.58 650.00,284.58 650.50,284.58 651.00,284.58 651.50,284.58 652.00,278.51 652.50,276.31 653.00,277.50 653.50,280.00 654.00,282.50 654.50,284.33 655.00,284.58 655.50,284.58 656.00,284.58 656.50,284.58 657.00,284.58 657.50,277.74 658.00,273.83 658.50,272.08 659.00,273.83 659.50,276.00 660.00,279.00 660.50,282.08 661.00,284.44 661.50,284.58 662.00,284.58 662.50,284.18 663.00,283.14 663.50,282.99 664.00,283.63 664.50,284.58 665.00,284.58 665.50,283.83 666.00,282.67 666.50,280.67 667.00,279.11 667.50,277.78 668.00,276.41 668.50,274.87 669.00,273.12 669.50,272.92 670.00,274.38 670.50,277.50 671.00,276.67 671.50,272.92 672.00,272.29 672.50,272.92 673.00,279.05 673.50,283.33 674.00,284.27 674.50,284.58 675.00,284.58 675.50,284.58 676.00,284.58 676.50,284.58 677.00,283.51 677.50,283.28 678.00,283.21 678.50,283.52 679.00,284.58 679.50,281.46 680.00,277.33 680.50,271.94 681.00,272.29 681.50,275.00 682.00,278.00 682.50,281.19 683.00,284.31 683.50,284.58 684.00,284.58 684.50,284.58 685.00,284.58 685.50,281.77 686.00,280.67 686.50,280.42 687.00,281.98 687.50,284.58 688.00,284.58 688.50,284.58 689.00,284.58 689.50,283.51 690.00,282.71 690.50,282.02 691.00,281.63 691.50,281.25 692.00,281.75 692.50,282.26 693.00,282.81 693.50,283.52 694.00,284.58 694.50,284.58 695.00,284.58 695.50,284.58 696.00,284.58 696.50,284.58 697.00,284.58 697.50,284.58 698.00,284.58 698.50,284.58 699.00,284.58 699.50,284.58 700.00,284.58 700.50,284.58 701.00,284.58 701.50,284.58 702.00,284.58 702.50,284.58 703.00,284.38 703.50,283.17 704.00,283.17 704.50,283.52 705.00,284.58 705.50,284.58 706.00,284.58 706.50,284.58 707.00,284.58 707.50,284.58 708.00,284.58 708.50,284.58 709.00,284.58 709.50,284.58 710.00,284.58 710.50,284.58 711.00,284.58 711.50,284.58 712.00,284.58 712.50,284.58 713.00,284.58 713.50,284.58 714.00,284.58 714.50,284.58 715.00,284.58 715.50,284.38 716.00,283.17 716.50,283.17 717.00,283.17 717.50,284.18 718.00,284.58 718.50,284.58 719.00,284.58 719.50,284.58 720.00,283.89 720.50,283.06 721.00,282.06 721.50,280.72 722.00,279.39 722.50,275.00 723.00,270.42 723.50,268.12 724.00,270.00 724.50,272.50 725.00,274.17 725.50,273.67 726.00,273.17 726.50,273.29 727.00,274.04 727.50,275.42 728.00,277.00 728.50,279.00 729.00,281.96 729.50,284.58 730.00,283.81 730.50,283.50 731.00,283.86 731.50,284.58 732.00,284.58 732.50,284.58 733.00,284.58 733.50,283.87 734.00,283.33 734.50,283.33 735.00,283.33 735.50,284.27 736.00,284.58 736.50,284.58 737.00,284.58 737.50,284.58 738.00,284.58 738.50,284.58 739.00,284.58 739.50,284.11 740.00,283.17 740.50,283.17 741.00,283.64 741.50,284.58 742.00,284.10 742.50,282.67 743.00,282.60 743.50,282.53 744.00,283.39 744.50,284.58 745.00,284.58 745.50,284.58 746.00,284.23 746.50,283.17 747.00,283.17 747.50,283.67 748.00,283.42 748.50,280.00 749.00,278.75 749.50,278.12 750.00,278.27 750.50,279.00 751.00,278.00 751.50,277.25 752.00,276.75 752.50,277.92 753.00,279.50 753.50,281.50 754.00,282.86 754.50,282.67 755.00,280.67 755.50,280.33 756.00,280.83 756.50,283.65 757.00,284.58 757.50,283.57 758.00,283.17 758.50,283.17 759.00,283.77 759.50,284.58 760.00,282.29 760.50,279.75 761.00,278.25 761.50,278.75 762.00,281.25 762.50,283.75 763.00,284.58 763.50,284.58 764.00,284.58 764.50,283.08 765.00,280.83 765.50,280.33 766.00,280.50 766.50,282.00 767.00,284.17 767.50,284.58 768.00,284.58 768.00,284.58" fill="#f8ce79"/>
<polygon points="444.33,284.58 444.33,284.58 444.83,284.58 445.33,284.58 445.83,284.58 446.33,284.58 446.83,284.58 447.33,284.58 447.83,284.58 448.33,284.58 448.83,284.58 449.33,284.58 449.83,284.58 450.33,284.58 450.83,284.58 451.33,284.58 451.83,284.58 452.33,284.58 452.83,284.58 453.33,284.58 453.83,284.58 454.33,284.58 454.83,284.58 455.33,284.58 455.83,284.58 456.33,284.58 456.83,284.58 457.33,284.58 457.83,284.58 458.33,284.58 458.83,284.58 459.33,284.58 459.83,284.58 460.33,284.58 460.83,284.58 461.33,284.58 461.83,284.58 462.33,284.58 462.83,284.58 463.33,284.58 463.83,284.58 464.33,284.58 464.83,284.58 465.33,284.58 465.83,284.58 466.33,284.58 466.83,284.58 467.33,284.58 467.83,284.58 468.33,284.58 468.83,284.58 469.33,284.58 469.83,284.58 470.33,284.58 470.83,284.58 471.33,284.58 471.83,284.58 472.33,284.58 472.83,284.58 473.33,284.58 473.83,284.58 474.33,284.58 474.83,284.58 475.33,284.58 475.83,284.58 476.33,284.58 476.83,284.58 477.33,284.58 477.83,284.58 478.33,284.58 478.83,284.58 479.33,284.58 479.83,284.58 480.33,284.58 480.83,284.58 481.33,284.58 481.83,284.58 482.33,284.58 482.83,284.58 483.33,284.58 483.83,284.58 484.33,284.58 484.83,284.58 485.33,284.58 485.83,284.58 486.33,284.58 486.83,284.58 487.33,284.58 487.83,284.58 488.33,284.58 488.83,284.58 489.33,284.58 489.83,284.11 490.33,283.02 490.83,282.58 491.33,283.02 491.83,284.11 492.33,284.58 492.83,284.58 493.33,284.58 493.83,284.58 494.33,284.58 494.83,284.58 495.33,284.58 495.83,284.58 496.33,284.58 496.83,284.58 497.33,284.11 497.83,283.02 498.33,282.58 498.83,283.02 499.33,284.11 499.83,284.58 500.33,284.58 500.83,284.58 501.33,284.58 501.83,284.58 502.33,284.58 502.83,284.58 503.33,284.58 503.83,284.58 504.33,284.58 504.83,284.58 505.33,284.58 505.83,284.58 506.33,284.58 506.83,284.58 507.33,284.58 507.83,284.58 508.33,284.58 508.83,284.58 509.33,284.58 509.83,284.58 510.33,284.58 510.83,284.58 511.33,284.58 511.83,284.58 512.33,284.58 512.83,284.58 513.33,284.58 513.83,284.58 514.33,284.58 514.83,284.58 515.00,284.58 515.50,284.58 516.00,284.58 516.50,284.58 517.00,284.58 517.50,284.58 518.00,284.58 518.50,284.58 519.00,284.58 519.50,284.58 520.00,284.58 520.50,284.58 521.00,284.58 521.50,284.58 522.00,284.58 522.50,284.58 523.00,284.58 523.50,284.58 524.00,284.58 524.50,284.58 525.00,284.58 525.50,284.58 526.00,284.58 526.50,284.58 527.00,284.58 527.50,284.58 528.00,284.58 528.50,284.58 529.00,284.58 529.50,284.58 530.00,284.58 530.50,284.58 531.00,284.58 531.50,284.58 532.00,284.58 532.50,284.58 533.00,284.58 533.50,284.58 534.00,284.58 534.50,284.58 535.00,284.58 535.50,284.58 536.00,284.58 536.50,284.58 537.00,284.58 537.50,284.58 538.00,284.58 538.50,284.58 539.00,284.58 539.50,284.58 540.00,284.58 540.50,284.58 541.00,284.58 541.50,284.58 542.00,284.58 542.50,284.58 543.00,284.58 543.50,284.58 544.00,284.58 544.50,284.58 545.00,284.58 545.50,284.58 546.00,284.58 546.50,284.58 547.00,284.58 547.50,284.58 548.00,284.58 548.50,284.58 549.00,284.58 549.50,284.58 550.00,284.58 550.50,284.58 551.00,284.58 551.50,284.58 552.00,283.98 552.50,283.00 553.00,282.50 553.50,283.00 554.00,283.98 554.50,284.58 555.00,284.58 555.50,284.58 556.00,284.58 556.50,284.58 557.00,284.58 557.50,284.58 558.00,284.58 558.50,284.58 559.00,284.58 559.50,284.58 560.00,284.58 560.50,284.58 561.00,284.58 561.50,284.58 562.00,284.58 562.50,284.58 563.00,284.58 563.50,284.58 564.00,284.58 564.50,284.58 565.00,284.58 565.50,284.58 566.00,284.58 566.50,284.58 567.00,284.58 567.50,284.58 568.00,284.58 568.50,284.58 569.00,284.58 569.50,284.03 570.00,283.19 570.50,282.22 571.00,280.56 571.50,278.89 572.00,275.67 572.50,271.67 573.00,269.67 573.50,268.75 574.00,270.00 574.50,270.32 575.00,268.78 575.50,267.24 576.00,265.71 576.50,264.17 577.00,264.67 577.50,266.33 578.00,270.33 578.50,275.67 579.00,281.67 579.50,284.17 580.00,284.58 580.50,284.58 581.00,284.58 581.50,283.21 582.00,280.46 582.50,279.11 583.00,279.58 583.50,280.83 584.00,283.65 584.50,284.58 585.00,284.58 585.50,284.12 586.00,281.38 586.50,278.00 587.00,274.00 587.50,271.89 588.00,270.16 588.50,270.00 589.00,270.62 589.50,272.50 590.00,275.83 590.50,278.33 591.00,281.15 591.50,284.58 592.00,284.58 592.50,284.58 593.00,284.58 593.50,284.58 594.00,284.58 594.50,284.58 595.00,284.58 595.50,284.58 596.00,284.58 596.50,284.58 597.00,284.58 597.50,284.58 598.00,284.58 598.50,284.31 599.00,283.47 599.50,282.64 600.00,281.25 600.50,279.67 601.00,277.67 601.50,276.17 602.00,275.17 602.50,274.17 603.00,276.67 603.50,277.33 604.00,274.33 604.50,273.67 605.00,274.17 605.50,277.17 606.00,280.71 606.50,284.58 607.00,284.58 607.50,284.58 608.00,284.58 608.50,284.58 609.00,277.50 609.50,271.07 610.00,269.44 610.50,268.78 611.00,268.89 611.50,270.56 612.00,271.03 612.50,269.10 613.00,267.25 613.50,265.75 614.00,264.38 614.50,263.12 615.00,262.92 615.50,262.92 616.00,262.92 616.50,262.92 617.00,262.82 617.50,262.68 618.00,262.54 618.50,262.40 619.00,261.92 619.50,262.42 620.00,262.36 620.50,262.19 621.00,262.01 621.50,261.77 622.00,261.54 622.50,261.22 623.00,261.57 623.50,261.83 624.00,261.83 624.50,261.83 625.00,261.19 625.50,261.68 626.00,261.74 626.50,261.81 627.00,262.12 627.50,262.56 628.00,263.78 628.50,263.94 629.00,264.11 629.50,264.00 630.00,263.75 630.50,263.50 631.00,263.17 631.50,262.06 632.00,261.72 632.50,261.03 633.00,260.26 633.50,262.50 634.00,264.92 634.50,266.42 635.00,266.94 635.50,267.28 636.00,267.67 636.50,268.17 637.00,269.67 637.50,271.67 638.00,273.67 638.50,275.67 639.00,275.67 639.50,273.67 640.00,272.50 640.50,271.50 641.00,270.50 641.50,269.50 642.00,268.50 642.50,267.08 643.00,266.19 643.50,268.33 644.00,273.33 644.50,277.00 645.00,280.00 645.50,281.50 646.00,282.72 646.50,283.39 647.00,284.06 647.50,284.31 648.00,284.47 648.50,284.58 649.00,284.58 649.50,284.58 650.00,284.58 650.50,284.58 651.00,284.58 651.50,284.58 652.00,278.51 652.50,276.31 653.00,277.50 653.50,280.00 654.00,282.50 654.50,284.33 655.00,284.58 655.50,284.58 656.00,284.58 656.50,284.58 657.00,284.58 657.50,277.74 658.00,273.83 658.50,272.08 659.00,273.83 659.50,276.00 660.00,279.00 660.50,282.08 661.00,284.44 661.50,284.58 662.00,284.58 662.50,284.58 663.00,284.58 663.50,284.58 664.00,284.58 664.50,284.58 665.00,284.58 665.50,283.83 666.00,282.67 666.50,280.67 667.00,279.11 667.50,277.78 668.00,276.41 668.50,274.87 669.00,273.33 669.50,274.33 670.00,275.67 670.50,277.67 671.00,276.67 671.50,274.17 672.00,273.67 672.50,274.76 673.00,279.05 673.50,283.33 674.00,284.27 674.50,284.58 675.00,284.58 675.50,284.58 676.00,284.58 676.50,284.58 677.00,284.58 677.50,284.58 678.00,284.58 678.50,284.58 679.00,284.58 679.50,281.46 680.00,277.33 680.50,274.33 681.00,274.00 681.50,275.00 682.00,278.00 682.50,281.19 683.00,284.31 683.50,284.58 684.00,284.58 684.50,284.58 685.00,284.58 685.50,283.58 686.00,282.92 686.50,282.92 687.00,283.33 687.50,284.58 688.00,284.58 688.50,284.58 689.00,284.58 689.50,284.27 690.00,283.33 690.50,283.08 691.00,282.83 691.50,282.58 692.00,282.67 692.50,282.92 693.00,283.17 693.50,283.65 694.00,284.58 694.50,284.58 695.00,284.58 695.50,284.58 696.00,284.58 696.50,284.58 697.00,284.58 697.50,284.58 698.00,284.58 698.50,284.58 699.00,284.58 699.50,284.58 700.00,284.58 700.50,284.58 701.00,284.58 701.50,284.58 702.00,284.58 702.50,284.58 703.00,284.58 703.50,284.58 704.00,284.58 704.50,284.58 705.00,284.58 705.50,284.58 706.00,284.58 706.50,284.58 707.00,284.58 707.50,284.58 708.00,284.58 708.50,284.58 709.00,284.58 709.50,284.58 710.00,284.58 710.50,284.58 711.00,284.58 711.50,284.58 712.00,284.58 712.50,284.58 713.00,284.58 713.50,284.58 714.00,284.58 714.50,284.58 715.00,284.58 715.50,284.58 716.00,284.58 716.50,284.58 717.00,284.58 717.50,284.58 718.00,284.58 718.50,284.58 719.00,284.58 719.50,284.58 720.00,283.89 720.50,283.06 721.00,282.06 721.50,280.72 722.00,279.39 722.50,275.00 723.00,270.42 723.50,268.12 724.00,270.00 724.50,272.50 725.00,274.17 725.50,273.67 726.00,273.17 726.50,273.29 727.00,274.04 727.50,275.42 728.00,277.00 728.50,279.00 729.00,281.96 729.50,284.58 730.00,284.58 730.50,284.58 731.00,284.58 731.50,284.58 732.00,284.58 732.50,284.58 733.00,284.58 733.50,283.87 734.00,283.33 734.50,283.33 735.00,283.33 735.50,284.27 736.00,284.58 736.50,284.58 737.00,284.58 737.50,284.58 738.00,284.58 738.50,284.58 739.00,284.58 739.50,284.58 740.00,284.58 740.50,284.58 741.00,284.58 741.50,284.58 742.00,284.10 742.50,282.67 743.00,282.60 743.50,282.53 744.00,283.39 744.50,284.58 745.00,284.58 745.50,284.58 746.00,284.58 746.50,284.58 747.00,284.58 747.50,284.58 748.00,283.42 748.50,282.25 749.00,281.33 749.50,280.67 750.00,280.00 750.50,279.00 751.00,278.00 751.50,277.25 752.00,276.75 752.50,277.92 753.00,279.50 753.50,281.50 754.00,282.86 754.50,282.67 755.00,280.67 755.50,280.33 756.00,280.83 756.50,283.65 757.00,284.58 757.50,284.58 758.00,284.58 758.50,284.58 759.00,284.58 759.50,284.58 760.00,282.29 760.50,279.75 761.00,278.25 761.50,278.75 762.00,281.25 762.50,283.75 763.00,284.58 763.50,284.58 764.00,284.58 764.50,283.08 765.00,280.83 765.50,280.33 766.00,280.50 766.50,282.00 767.00,284.17 767.50,284.58 768.00,284.58 768.00,284.58" fill="#b06dad"/>
<path d="M444.33,266.67 L444.83,262.29 L445.33,260.50 L445.83,260.00 L446.33,260.17 L446.83,260.33 L447.33,260.33 L447.83,260.17 L448.33,260.00 L448.83,259.88 L449.33,259.75 L449.83,259.62 L450.33,258.47 L450.83,256.81 L451.33,255.58 L451.83,256.58 L452.33,257.58 L452.83,259.48 L453.33,261.83 L453.83,261.83 L454.33,261.83 L454.83,261.83 L455.33,261.79 L455.83,261.72 L456.33,261.65 L456.83,261.58 L457.33,261.51 L457.83,261.44 L458.33,261.37 L458.83,261.30 L459.33,260.99 L459.83,260.23 L460.33,259.46 L460.83,259.65 L461.33,260.03 L461.83,260.42 L462.33,262.15 L462.83,263.88 L463.33,266.67 L463.83,269.21 L464.33,269.46 L464.83,266.96 L465.33,261.71 L465.83,256.04 L466.33,251.47 L466.83,252.81 L467.33,254.14 L467.83,254.14 L468.33,253.47 L468.83,252.72 L469.33,251.57 L469.83,250.42 L470.33,252.71 L470.83,255.00 L471.33,256.33 L471.83,257.67 L472.33,257.58 L472.83,256.08 L473.33,254.23 L473.83,252.31 L474.33,251.86 L474.83,252.16 L475.33,252.45 L475.83,255.83 L476.33,260.36 L476.83,267.50 L477.33,268.75 L477.83,269.08 L478.33,268.96 L478.83,268.83 L479.33,268.81 L479.83,268.97 L480.33,269.14 L480.83,265.83 L481.33,262.46 L481.83,262.19 L482.33,261.92 L482.83,261.90 L483.33,262.00 L483.83,262.46 L484.33,264.71 L484.83,265.33 L485.33,264.33 L485.83,263.39 L486.33,262.46 L486.83,261.80 L487.33,261.70 L487.83,261.60 L488.33,261.50 L488.83,262.23 L489.33,262.97 L489.83,263.67 L490.33,264.33 L490.83,265.00 L491.33,264.58 L491.83,264.17 L492.33,260.42 L492.83,257.50 L493.33,255.00 L493.83,257.50 L494.33,259.75 L494.83,261.50 L495.33,262.25 L495.83,262.50 L496.33,260.25 L496.83,258.86 L497.33,259.19 L497.83,259.53 L498.33,259.79 L498.83,260.33 L499.33,262.33 L499.83,263.72 L500.33,264.49 L500.83,264.42 L501.33,262.67 L501.83,262.92 L502.33,264.17 L502.83,268.75 L503.33,273.33 L503.83,271.33 L504.33,269.00 L504.83,266.00 L505.33,264.16 L505.83,262.89 L506.33,261.82 M521.50,261.26 L522.00,260.69 L522.50,259.86 L523.00,260.10 L523.50,260.87 L524.00,261.25 M551.50,264.25 L552.00,263.33 L552.50,260.83 L553.00,252.33 L553.50,246.33 L554.00,245.33 L554.50,247.33 L555.00,250.83 L555.50,255.08 L556.00,257.75 L556.50,257.25 L557.00,256.75 L557.50,254.72 L558.00,252.39 L558.50,250.78 L559.00,250.61 L559.50,250.44 L560.00,253.46 L560.50,257.12 L561.00,259.03 L561.50,260.07 L562.00,260.63 L562.50,260.96 L563.00,261.28 L563.50,261.58 L564.00,261.81 L564.50,262.04 L565.00,259.79 L565.50,257.39 L566.00,256.72 L566.50,256.06 L567.00,256.67 L567.50,257.92 L568.00,260.83 L568.50,262.50 M610.00,260.00 L610.50,254.96 L611.00,254.71 L611.50,256.21 M664.00,261.17 L664.50,260.17 L665.00,259.17 L665.50,257.67 L666.00,256.17 L666.50,255.92 L667.00,256.92 L667.50,257.92 L668.00,255.21 L668.50,252.50 L669.00,246.25 L669.50,243.00 L670.00,245.75 L670.50,247.17 L671.00,247.92 L671.50,250.67 L672.00,252.67 L672.50,253.17 M677.00,260.51 L677.50,260.00 L678.00,259.50 L678.50,258.19 L679.00,255.28 L679.50,252.56 L680.00,250.26 L680.50,248.40 L681.00,248.78 L681.50,249.17 L682.00,253.17 L682.50,256.83 L683.00,259.83 M717.50,264.17 L718.00,267.67 L718.50,271.67 L719.00,271.92 L719.50,270.73 L720.00,266.67 L720.50,260.10 L721.00,258.06 L721.50,258.26 L722.00,259.33 L722.50,260.83 L723.00,257.83 L723.50,255.97 L724.00,256.39 L724.50,257.25 L725.00,256.67 M729.50,269.67 L730.00,273.67 L730.50,276.04 L731.00,276.33 L731.50,274.08 L732.00,268.33 L732.50,262.85 L733.00,261.39 L733.50,260.36 L734.00,260.19 L734.50,260.03 L735.00,260.83 M742.50,265.38 L743.00,266.75 L743.50,267.25 L744.00,267.14 L744.50,267.71 L745.00,270.83 L745.50,271.83 L746.00,272.67 L746.50,273.17 L747.00,272.67 L747.50,271.67 L748.00,267.67 L748.50,263.42 L749.00,258.67 L749.50,256.92 L750.00,256.67 L750.50,262.29 L751.00,265.17 L751.50,266.67 L752.00,267.92 L752.50,269.17 L753.00,269.83 L753.50,270.50 L754.00,270.08 M761.00,259.33 L761.50,257.95 L762.00,257.18 L762.50,258.17 L763.00,262.67 L763.50,270.36" fill="none" stroke="#666" stroke-opacity="0.7" stroke-width="0.4" stroke-linejoin="round"/>
<path d="M473.33,267.50 L473.83,266.00 L474.33,265.22 L474.83,265.89 L475.33,266.56 L475.83,268.89 L476.33,271.56 L476.83,275.67 L477.33,278.83 L477.83,278.17 L478.33,277.50 L478.83,276.50 L479.33,275.50 L479.83,274.00 L480.33,272.00 L480.83,267.29 L481.33,262.86 L481.83,262.53 L482.33,262.19 L482.83,262.15 L483.33,262.25 L483.83,262.77 L484.33,265.37 L484.83,269.67 L485.33,275.67 L485.83,278.45 L486.33,276.25 L486.83,271.67 L487.33,266.67 L487.83,263.73 L488.33,261.83 L488.83,262.48 L489.33,263.33 L489.83,264.58 L490.33,265.67 L490.83,266.67 L491.33,267.58 L491.83,268.08 L492.33,268.58 L492.83,269.31 L493.33,270.14 L493.83,270.92 L494.33,271.42 L494.83,270.42 L495.33,267.92 L495.83,265.42 L496.33,263.11 L496.83,261.78 L497.33,260.44 L497.83,260.00 L498.33,260.00 L498.83,261.88 L499.33,263.75 L499.83,264.33 L500.33,264.90 L500.83,264.42 L501.33,262.74 L501.83,263.23 L502.33,264.58 L502.83,269.83 L503.33,275.24 L503.83,279.00 M551.50,264.25 L552.00,264.83 L552.50,263.33 L553.00,262.33 L553.50,260.92 L554.00,258.67 L554.50,257.92 L555.00,257.92 L555.50,261.17 L556.00,263.28 L556.50,263.11 L557.00,262.94 L557.50,261.94 L558.00,260.78 L558.50,259.92 L559.00,259.67 L559.50,259.42 L560.00,259.17 L560.50,259.92 L561.00,260.47 L561.50,260.64 L562.00,260.81 L562.50,261.17 L563.00,261.57 L563.50,262.14 L564.00,263.08 L564.50,264.01 L565.00,266.25 L565.50,267.92 L566.00,265.42 L566.50,264.04 L567.00,263.79 L567.50,264.17 L568.00,264.42 L568.50,262.50 L569.00,260.00 L569.50,258.50 L570.00,257.50 L570.50,259.58 L571.00,261.67 L571.50,262.24 L572.00,262.82 L572.50,262.50 L573.00,262.00 L573.50,260.42 L574.00,256.67 L574.50,253.97 L575.00,253.40 L575.50,253.21 L576.00,254.94 L576.50,256.67 L577.00,259.67 L577.50,262.64 L578.00,265.56 L578.50,270.33 L579.00,278.83 L579.50,282.33 L580.00,283.33 L580.50,276.33 L581.00,269.67 L581.50,263.67 L582.00,262.08 L582.50,262.71 L583.00,261.25 L583.50,258.75 L584.00,257.98 L584.50,257.21 L585.00,258.21 L585.50,259.55 L586.00,261.39 L586.50,263.47 L587.00,264.83 L587.50,265.83 L588.00,266.73 L588.50,267.12 L589.00,267.50 L589.50,261.79 L590.00,260.83 L590.50,261.33 L591.00,261.83 L591.50,261.75 L592.00,261.08 L592.50,260.42 L593.00,260.42 L593.50,260.42 L594.00,260.67 L594.50,261.17 L595.00,261.67 L595.50,262.29 L596.00,262.92 L596.50,261.96 L597.00,260.99 L597.50,260.14 L598.00,259.31 L598.50,258.64 L599.00,258.31 L599.50,257.97 L600.00,258.47 L600.50,259.14 L601.00,260.08 L601.50,261.58 L602.00,261.64 L602.50,260.97 L603.00,260.34 L603.50,259.91 L604.00,259.48 L604.50,259.51 L605.00,259.78 L605.50,260.33 L606.00,262.33 L606.50,263.83 L607.00,264.83 L607.50,265.83 L608.00,267.17 L608.50,268.50 L609.00,267.92 L609.50,265.42 L610.00,260.00 L610.50,256.98 L611.00,256.25 L611.50,256.25 L612.00,259.46 L612.50,262.08 L613.00,264.25 L613.50,264.75 L614.00,263.62 L614.50,260.88 M633.00,260.26 L633.50,260.83 L634.00,262.08 L634.50,262.94 L635.00,263.61 L635.50,264.00 L636.00,263.00 L636.50,263.25 L637.00,264.75 L637.50,265.42 L638.00,265.44 L638.50,263.11 L639.00,260.78 L639.50,260.00 L640.00,260.00 L640.50,261.28 L641.00,263.21 L641.50,264.67 L642.00,265.67 L642.50,264.50 L643.00,262.90 L643.50,263.63 L644.00,269.03 L644.50,271.06 L645.00,271.39 L645.50,271.51 L646.00,270.54 L646.50,269.58 L647.00,272.29 L647.50,275.00 L648.00,278.00 L648.50,279.17 L649.00,276.67 L649.50,274.83 L650.00,274.33 L650.50,275.50 L651.00,277.50 L651.50,276.88 L652.00,272.00 L652.50,265.00 L653.00,260.00 L653.50,256.94 L654.00,257.78 L654.50,258.85 L655.00,260.38 L655.50,262.08 L656.00,264.58 L656.50,266.51 L657.00,267.85 L657.50,267.57 L658.00,264.03 L658.50,261.58 L659.00,261.33 L659.50,263.75 L660.00,267.50 L660.50,271.00 L661.00,273.67 L661.50,274.67 L662.00,274.11 L662.50,272.78 L663.00,270.67 L663.50,264.67 L664.00,261.17 L664.50,261.15 L665.00,260.00 L665.50,259.17 L666.00,258.33 L666.50,258.17 L667.00,258.67 L667.50,259.17 L668.00,257.29 L668.50,255.42 L669.00,254.92 L669.50,254.67 L670.00,254.92 L670.50,254.67 L671.00,254.17 L671.50,253.27 L672.00,252.80 L672.50,253.20 L673.00,255.33 L673.50,258.33 L674.00,259.29 L674.50,260.26 L675.00,260.89 L675.50,261.46 L676.00,261.64 L676.50,261.08 L677.00,260.51 L677.50,261.33 L678.00,260.75 L678.50,260.25 L679.00,258.85 L679.50,256.54 L680.00,254.00 L680.50,251.00 L681.00,250.33 L681.50,250.83 L682.00,254.33 L682.50,257.74 L683.00,259.83 L683.50,260.71 L684.00,260.54 L684.50,259.84 L685.00,258.11 L685.50,256.67 L686.00,256.67 L686.50,256.67 L687.00,258.54 L687.50,260.42 L688.00,260.58 L688.50,260.75 L689.00,260.64 L689.50,260.26 L690.00,259.29 L690.50,257.56 L691.00,257.95 L691.50,258.33 L692.00,258.58 L692.50,259.30 L693.00,260.95 L693.50,261.69 L694.00,261.99 L694.50,261.93 L695.00,261.69 L695.50,261.50 L696.00,261.50 L696.50,261.50 L697.00,261.50 L697.50,261.50 L698.00,261.50 L698.50,261.50 L699.00,261.50 L699.50,261.50 L700.00,261.50 L700.50,261.50 L701.00,261.50 L701.50,261.50 L702.00,262.07 L702.50,262.92 L703.00,261.88 L703.50,260.83 L704.00,260.58 L704.50,260.63 L705.00,261.29 L705.50,261.85 L706.00,261.92 L706.50,262.00 L707.00,262.07 L707.50,262.50 L708.00,262.84 L708.50,262.41 L709.00,261.98 L709.50,261.74 L710.00,261.61 L710.50,261.54 L711.00,261.77 L711.50,262.01 L712.00,261.97 L712.50,261.79 L713.00,261.62 L713.50,261.36 L714.00,260.92 L714.50,260.49 L715.00,260.28 L715.50,260.11 L716.00,260.14 L716.50,260.56 L717.00,261.67 L717.50,264.17 L718.00,268.00 L718.50,272.50 L719.00,272.50 L719.50,271.67 L720.00,269.17 L720.50,266.33 L721.00,263.33 L721.50,262.37 L722.00,261.41 L722.50,260.83 L723.00,259.12 L723.50,258.88 L724.00,258.50 L724.50,258.00 L725.00,256.67 L725.50,259.67 L726.00,262.00 L726.50,263.00 L727.00,264.00 L727.50,264.72 L728.00,265.39 L728.50,266.25 L729.00,267.50 L729.50,269.67 L730.00,275.00 L730.50,276.50 L731.00,277.33 L731.50,276.83 L732.00,276.00 L732.50,275.00 L733.00,271.50 L733.50,267.50 L734.00,262.50 L734.50,260.71 L735.00,260.83 L735.50,263.10 L736.00,271.67 L736.50,277.67 L737.00,282.19 L737.50,283.75 L738.00,282.00 L738.50,278.17 L739.00,270.17 L739.50,265.00 L740.00,261.25 L740.50,261.04 L741.00,260.83 L741.50,262.33 L742.00,263.85 L742.50,265.38 L743.00,267.83 L743.50,269.83 L744.00,271.50 L744.50,272.83 L745.00,274.17 L745.50,275.50 L746.00,276.83 L746.50,278.00 L747.00,279.00 L747.50,277.92 L748.00,275.95 L748.50,271.67 L749.00,267.92 L749.50,265.67 L750.00,264.17 L750.50,264.48 L751.00,266.42 L751.50,269.17 L752.00,270.21 L752.50,271.25 L753.00,271.15 L753.50,271.05 L754.00,270.08 L754.50,268.58 L755.00,267.50 L755.50,267.08 L756.00,269.58 L756.50,273.58 L757.00,279.08 L757.50,281.67 L758.00,283.00 L758.50,281.00 L759.00,277.50 L759.50,272.50 L760.00,266.67 L760.50,261.33 L761.00,259.33 L761.50,258.75 L762.00,259.38 L762.50,261.19 L763.00,264.22 L763.50,270.36 L764.00,276.00 L764.50,278.00 L765.00,276.25 L765.50,273.88 L766.00,272.12 L766.50,272.88 L767.00,276.12 L767.50,279.17 L768.00,282.25" fill="none" stroke="#666" stroke-opacity="0.7" stroke-width="0.4" stroke-linejoin="round"/>
<path d="M444.33,283.33 L444.83,283.65 L445.33,283.75 L445.83,283.75 L446.33,283.75 L446.83,283.71 L447.33,283.58 L447.83,283.46 L448.33,283.33 L448.83,282.93 L449.33,282.53 L449.83,282.13 L450.33,281.73 L450.83,280.21 L451.33,278.91 L451.83,279.87 L452.33,280.83 L452.83,283.33 L453.33,283.75 L453.83,283.75 L454.33,283.75 L454.83,283.75 L455.33,283.75 L455.83,283.75 L456.33,283.75 L456.83,283.75 L457.33,283.75 L457.83,283.75 L458.33,283.75 L458.83,283.58 L459.33,282.58 L459.83,281.83 L460.33,281.33 L460.83,281.89 L461.33,282.66 L461.83,283.63 L462.33,284.17 L462.83,284.17 L463.33,284.17 L463.83,284.17 L464.33,283.12 L464.83,280.00 L465.33,272.86 L465.83,268.33 L466.33,265.26 L466.83,266.79 L467.33,268.33 L467.83,269.79 L468.33,271.25 L468.83,269.38 L469.33,267.50 L469.83,266.00 L470.33,266.33 L470.83,270.33 L471.33,274.58 L471.83,276.67 L472.33,274.17 L472.83,271.00 L473.33,267.50 L473.83,270.00 L474.33,272.06 L474.83,273.22 L475.33,274.39 L475.83,275.00 L476.33,275.50 L476.83,276.67 L477.33,279.17 L477.83,282.29 L478.33,284.58 M490.83,282.58 L491.33,281.50 L491.83,280.50 L492.33,279.50 L492.83,278.50 L493.33,277.50 L493.83,277.00 L494.33,279.00 L494.83,280.25 L495.33,280.75 L495.83,277.08 L496.33,272.83 L496.83,269.83 L497.33,266.83 L497.83,269.50 L498.33,275.00 L498.83,277.50 L499.33,280.00 L499.83,280.77 L500.33,281.54 L500.83,282.08 L501.33,282.58 L501.83,282.97 L502.33,283.14 L502.83,283.31 L503.33,281.67 L503.83,279.00 L504.33,273.00 L504.83,268.25 L505.33,264.75 L505.83,263.00 L506.33,261.82 L506.83,261.74 L507.33,261.66 L507.83,261.58 L508.33,261.50 L508.83,261.49 L509.33,261.48 L509.83,261.47 L510.33,261.46 L510.83,261.45 L511.33,261.44 L511.83,261.43 L512.33,261.41 L512.83,261.40 L513.33,261.39 L513.83,261.38 L514.33,261.37 L514.83,261.36 L515.00,261.50 L515.50,261.48 L516.00,261.46 L516.50,261.44 L517.00,261.43 L517.50,261.41 L518.00,261.39 L518.50,261.37 L519.00,261.35 L519.50,261.33 L520.00,261.31 L520.50,261.29 L521.00,261.27 L521.50,261.26 L522.00,261.50 L522.50,261.50 L523.00,261.50 L523.50,261.50 L524.00,261.25 L524.50,261.26 L525.00,261.27 L525.50,261.28 L526.00,261.29 L526.50,261.30 L527.00,261.31 L527.50,261.32 L528.00,261.33 L528.50,261.34 L529.00,261.35 L529.50,261.35 L530.00,261.36 L530.50,261.37 L531.00,261.38 L531.50,261.39 L532.00,261.40 L532.50,261.41 L533.00,261.42 L533.50,261.43 L534.00,261.44 L534.50,261.45 L535.00,261.45 L535.50,261.46 L536.00,261.47 L536.50,261.48 L537.00,261.49 L537.50,261.50 L538.00,261.23 L538.50,260.97 L539.00,261.58 L539.50,263.08 L540.00,263.39 L540.50,263.46 L541.00,263.05 L541.50,261.70 L542.00,261.25 L542.50,261.25 L543.00,261.25 L543.50,261.25 L544.00,261.25 L544.50,261.25 L545.00,261.25 L545.50,261.58 L546.00,261.92 L546.50,261.83 L547.00,261.33 L547.50,261.25 L548.00,261.25 L548.50,261.25 L549.00,261.25 L549.50,261.25 L550.00,261.25 L550.50,261.25 L551.00,262.00 L551.50,264.25 L552.00,267.17 L552.50,269.17 L553.00,269.67 L553.50,270.17 L554.00,271.79 L554.50,274.54 L555.00,278.33 L555.50,281.42 L556.00,279.92 L556.50,277.42 L557.00,273.92 L557.50,272.08 L558.00,270.94 L558.50,271.61 L559.00,272.28 L559.50,272.94 L560.00,273.61 L560.50,274.42 L561.00,275.92 L561.50,276.92 L562.00,277.42 L562.50,276.25 L563.00,274.83 L563.50,273.83 L564.00,273.72 L564.50,274.49 L565.00,275.56 L565.50,277.22 L566.00,278.67 L566.50,279.67 L567.00,280.67 L567.50,281.39 L568.00,282.06 L568.50,282.00 L569.00,280.50 L569.50,279.33 L570.00,278.33 L570.50,277.67 L571.00,277.00 L571.50,275.67 L572.00,273.67 L572.50,270.42 L573.00,266.92 L573.50,263.42 L574.00,261.50 L574.50,261.17 L575.00,260.83 L575.50,260.67 L576.00,260.50 L576.50,261.04 L577.00,262.29 L577.50,264.29 L578.00,270.33 M579.50,284.17 L580.00,283.33 L580.50,278.33 L581.00,273.00 L581.50,267.00 L582.00,263.96 L582.50,264.23 L583.00,268.08 L583.50,271.58 L584.00,274.58 L584.50,277.08 L585.00,279.17 L585.50,280.71 L586.00,280.00 L586.50,276.67 L587.00,269.52 L587.50,267.69 L588.00,266.92 L588.50,267.12 L589.00,267.50 L589.50,269.17 L590.00,275.83 M591.00,281.15 L591.50,284.17 L592.00,283.45 L592.50,282.92 L593.00,282.42 L593.50,282.04 L594.00,281.92 L594.50,281.79 L595.00,281.67 L595.50,281.33 L596.00,281.00 L596.50,279.08 L597.00,275.58 L597.50,273.51 L598.00,274.79 L598.50,277.33 L599.00,279.33 L599.50,279.00 L600.00,277.50 L600.50,274.38 L601.00,271.90 L601.50,271.90 L602.00,273.33 L602.50,273.33 L603.00,274.83 L603.50,273.96 L604.00,268.33 L604.50,266.90 L605.00,269.05 L605.50,273.33 L606.00,278.10 L606.50,281.77 L607.00,282.40 L607.50,281.67 L608.00,280.24 L608.50,276.67 L609.00,271.67 L609.50,265.95 L610.00,262.08 L610.50,259.42 L611.00,260.92 L611.50,262.92 L612.00,265.42 L612.50,268.21 L613.00,267.25 L613.50,265.42 L614.00,264.17 L614.50,260.95 L615.00,260.42 L615.50,260.42 L616.00,260.58 L616.50,261.08 L617.00,261.58 L617.50,261.53 L618.00,261.36 L618.50,261.42 L619.00,261.92 M622.50,261.22 L623.00,260.89 L623.50,260.62 L624.00,260.50 L624.50,260.61 L625.00,261.19 M627.50,262.56 L628.00,262.76 L628.50,261.79 L629.00,260.83 L629.50,260.73 L630.00,260.97 L630.50,261.89 L631.00,262.39 L631.50,262.06 M640.50,271.50 L641.00,269.17 L641.50,267.92 L642.00,267.17 L642.50,266.67 L643.00,265.83 L643.50,268.33 M662.00,284.58 L662.50,284.18 L663.00,283.14 L663.50,282.99 L664.00,283.63 L664.50,284.58 M668.50,274.87 L669.00,273.12 L669.50,272.92 L670.00,274.38 L670.50,277.50 L671.00,276.67 L671.50,272.92 L672.00,272.29 L672.50,272.92 L673.00,279.05 M676.50,284.58 L677.00,283.51 L677.50,283.28 L678.00,283.21 L678.50,283.52 L679.00,284.58 M680.00,277.33 L680.50,271.94 L681.00,272.29 L681.50,275.00 M685.00,284.58 L685.50,281.77 L686.00,280.67 L686.50,280.42 L687.00,281.98 L687.50,284.58 M689.00,284.58 L689.50,283.51 L690.00,282.71 L690.50,282.02 L691.00,281.63 L691.50,281.25 L692.00,281.75 L692.50,282.26 L693.00,282.81 L693.50,283.52 L694.00,284.58 M702.50,284.58 L703.00,284.38 L703.50,283.17 L704.00,283.17 L704.50,283.52 L705.00,284.58 M715.00,284.58 L715.50,284.38 L716.00,283.17 L716.50,283.17 L717.00,283.17 L717.50,284.18 L718.00,284.58 M729.50,284.58 L730.00,283.81 L730.50,283.50 L731.00,283.86 L731.50,284.58 M739.00,284.58 L739.50,284.11 L740.00,283.17 L740.50,283.17 L741.00,283.64 L741.50,284.58 M745.50,284.58 L746.00,284.23 L746.50,283.17 L747.00,283.17 L747.50,283.67 L748.00,283.42 L748.50,280.00 L749.00,278.75 L749.50,278.12 L750.00,278.27 L750.50,279.00 M757.00,284.58 L757.50,283.57 L758.00,283.17 L758.50,283.17 L759.00,283.77 L759.50,284.58" fill="none" stroke="#666" stroke-opacity="0.7" stroke-width="0.4" stroke-linejoin="round"/>
<path d="M489.33,284.58 L489.83,284.11 L490.33,283.02 L490.83,282.58 L491.33,283.02 L491.83,284.11 L492.33,284.58 M496.83,284.58 L497.33,284.11 L497.83,283.02 L498.33,282.58 L498.83,283.02 L499.33,284.11 L499.83,284.58 M551.50,284.58 L552.00,283.98 L552.50,283.00 L553.00,282.50 L553.50,283.00 L554.00,283.98 L554.50,284.58 M569.00,284.58 L569.50,284.03 L570.00,283.19 L570.50,282.22 L571.00,280.56 L571.50,278.89 L572.00,275.67 L572.50,271.67 L573.00,269.67 L573.50,268.75 L574.00,270.00 L574.50,270.32 L575.00,268.78 L575.50,267.24 L576.00,265.71 L576.50,264.17 L577.00,264.67 L577.50,266.33 L578.00,270.33 L578.50,275.67 L579.00,281.67 L579.50,284.17 L580.00,284.58 M581.00,284.58 L581.50,283.21 L582.00,280.46 L582.50,279.11 L583.00,279.58 L583.50,280.83 L584.00,283.65 L584.50,284.58 L585.00,284.58 L585.50,284.12 L586.00,281.38 L586.50,278.00 L587.00,274.00 L587.50,271.89 L588.00,270.16 L588.50,270.00 L589.00,270.62 L589.50,272.50 L590.00,275.83 L590.50,278.33 L591.00,281.15 L591.50,284.58 M598.00,284.58 L598.50,284.31 L599.00,283.47 L599.50,282.64 L600.00,281.25 L600.50,279.67 L601.00,277.67 L601.50,276.17 L602.00,275.17 L602.50,274.17 L603.00,276.67 L603.50,277.33 L604.00,274.33 L604.50,273.67 L605.00,274.17 L605.50,277.17 L606.00,280.71 L606.50,284.58 M608.50,284.58 L609.00,277.50 L609.50,271.07 L610.00,269.44 L610.50,268.78 L611.00,268.89 L611.50,270.56 L612.00,271.03 L612.50,269.10 L613.00,267.25 L613.50,265.75 L614.00,264.38 L614.50,263.12 L615.00,262.92 L615.50,262.92 L616.00,262.92 L616.50,262.92 L617.00,262.82 L617.50,262.68 L618.00,262.54 L618.50,262.40 L619.00,261.92 L619.50,262.42 L620.00,262.36 L620.50,262.19 L621.00,262.01 L621.50,261.77 L622.00,261.54 L622.50,261.22 L623.00,261.57 L623.50,261.83 L624.00,261.83 L624.50,261.83 L625.00,261.19 L625.50,261.68 L626.00,261.74 L626.50,261.81 L627.00,262.12 L627.50,262.56 L628.00,263.78 L628.50,263.94 L629.00,264.11 L629.50,264.00 L630.00,263.75 L630.50,263.50 L631.00,263.17 L631.50,262.06 L632.00,261.72 L632.50,261.03 L633.00,260.26 L633.50,262.50 L634.00,264.92 L634.50,266.42 L635.00,266.94 L635.50,267.28 L636.00,267.67 L636.50,268.17 L637.00,269.67 L637.50,271.67 L638.00,273.67 L638.50,275.67 L639.00,275.67 L639.50,273.67 L640.00,272.50 L640.50,271.50 L641.00,270.50 L641.50,269.50 L642.00,268.50 L642.50,267.08 L643.00,266.19 L643.50,268.33 L644.00,273.33 L644.50,277.00 L645.00,280.00 L645.50,281.50 L646.00,282.72 L646.50,283.39 L647.00,284.06 L647.50,284.31 L648.00,284.47 L648.50,284.58 M651.50,284.58 L652.00,278.51 L652.50,276.31 L653.00,277.50 L653.50,280.00 L654.00,282.50 L654.50,284.33 L655.00,284.58 M657.00,284.58 L657.50,277.74 L658.00,273.83 L658.50,272.08 L659.00,273.83 L659.50,276.00 L660.00,279.00 L660.50,282.08 L661.00,284.44 L661.50,284.58 M665.00,284.58 L665.50,283.83 L666.00,282.67 L666.50,280.67 L667.00,279.11 L667.50,277.78 L668.00,276.41 L668.50,274.87 L669.00,273.33 L669.50,274.33 L670.00,275.67 L670.50,277.67 L671.00,276.67 L671.50,274.17 L672.00,273.67 L672.50,274.76 L673.00,279.05 L673.50,283.33 L674.00,284.27 L674.50,284.58 M679.00,284.58 L679.50,281.46 L680.00,277.33 L680.50,274.33 L681.00,274.00 L681.50,275.00 L682.00,278.00 L682.50,281.19 L683.00,284.31 L683.50,284.58 M685.00,284.58 L685.50,283.58 L686.00,282.92 L686.50,282.92 L687.00,283.33 L687.50,284.58 M689.00,284.58 L689.50,284.27 L690.00,283.33 L690.50,283.08 L691.00,282.83 L691.50,282.58 L692.00,282.67 L692.50,282.92 L693.00,283.17 L693.50,283.65 L694.00,284.58 M719.50,284.58 L720.00,283.89 L720.50,283.06 L721.00,282.06 L721.50,280.72 L722.00,279.39 L722.50,275.00 L723.00,270.42 L723.50,268.12 L724.00,270.00 L724.50,272.50 L725.00,274.17 L725.50,273.67 L726.00,273.17 L726.50,273.29 L727.00,274.04 L727.50,275.42 L728.00,277.00 L728.50,279.00 L729.00,281.96 L729.50,284.58 M733.00,284.58 L733.50,283.87 L734.00,283.33 L734.50,283.33 L735.00,283.33 L735.50,284.27 L736.00,284.58 M741.50,284.58 L742.00,284.10 L742.50,282.67 L743.00,282.60 L743.50,282.53 L744.00,283.39 L744.50,284.58 M747.50,284.58 L748.00,283.42 L748.50,282.25 L749.00,281.33 L749.50,280.67 L750.00,280.00 L750.50,279.00 L751.00,278.00 L751.50,277.25 L752.00,276.75 L752.50,277.92 L753.00,279.50 L753.50,281.50 L754.00,282.86 L754.50,282.67 L755.00,280.67 L755.50,280.33 L756.00,280.83 L756.50,283.65 L757.00,284.58 M759.50,284.58 L760.00,282.29 L760.50,279.75 L761.00,278.25 L761.50,278.75 L762.00,281.25 L762.50,283.75 L763.00,284.58 M764.00,284.58 L764.50,283.08 L765.00,280.83 L765.50,280.33 L766.00,280.50 L766.50,282.00 L767.00,284.17 L767.50,284.58" fill="none" stroke="#666" stroke-opacity="0.7" stroke-width="0.4" stroke-linejoin="round"/>
<rect x="444.00" y="284.9" width="0.6" height="3" fill="#d5d9f0"/>
<text x="444.3" y="292.6" font-family="'DejaVu Sans','Noto Sans CJK JP',sans-serif" font-size="4.5" font-weight="normal" fill="#7c7c7c" text-anchor="middle" letter-spacing="0.15">00分00秒</text>
<rect x="471.05" y="284.9" width="0.6" height="3" fill="#d5d9f0"/>
<text x="471.4" y="292.6" font-family="'DejaVu Sans','Noto Sans CJK JP',sans-serif" font-size="4.5" font-weight="normal" fill="#7c7c7c" text-anchor="middle" letter-spacing="0.15">04分10秒</text>
<rect x="498.10" y="284.9" width="0.6" height="3" fill="#d5d9f0"/>
<text x="498.4" y="292.6" font-family="'DejaVu Sans','Noto Sans CJK JP',sans-serif" font-size="4.5" font-weight="normal" fill="#7c7c7c" text-anchor="middle" letter-spacing="0.15">08分20秒</text>
<rect x="525.15" y="284.9" width="0.6" height="3" fill="#d5d9f0"/>
<text x="525.5" y="292.6" font-family="'DejaVu Sans','Noto Sans CJK JP',sans-serif" font-size="4.5" font-weight="normal" fill="#7c7c7c" text-anchor="middle" letter-spacing="0.15">12分30秒</text>
<rect x="552.20" y="284.9" width="0.6" height="3" fill="#d5d9f0"/>
<text x="552.5" y="292.6" font-family="'DejaVu Sans','Noto Sans CJK JP',sans-serif" font-size="4.5" font-weight="normal" fill="#7c7c7c" text-anchor="middle" letter-spacing="0.15">16分40秒</text>
<rect x="579.25" y="284.9" width="0.6" height="3" fill="#d5d9f0"/>
<text x="579.5" y="292.6" font-family="'DejaVu Sans','Noto Sans CJK JP',sans-serif" font-size="4.5" font-weight="normal" fill="#7c7c7c" text-anchor="middle" letter-spacing="0.15">20分50秒</text>
<rect x="606.30" y="284.9" width="0.6" height="3" fill="#d5d9f0"/>
<text x="606.6" y="292.6" font-family="'DejaVu Sans','Noto Sans CJK JP',sans-serif" font-size="4.5" font-weight="normal" fill="#7c7c7c" text-anchor="middle" letter-spacing="0.15">25分00秒</text>
<rect x="633.35" y="284.9" width="0.6" height="3" fill="#d5d9f0"/>
<text x="633.6" y="292.6" font-family="'DejaVu Sans','Noto Sans CJK JP',sans-serif" font-size="4.5" font-weight="normal" fill="#7c7c7c" text-anchor="middle" letter-spacing="0.15">29分10秒</text>
<rect x="660.40" y="284.9" width="0.6" height="3" fill="#d5d9f0"/>
<text x="660.7" y="292.6" font-family="'DejaVu Sans','Noto Sans CJK JP',sans-serif" font-size="4.5" font-weight="normal" fill="#7c7c7c" text-anchor="middle" letter-spacing="0.15">33分20秒</text>
<rect x="687.45" y="284.9" width="0.6" height="3" fill="#d5d9f0"/>
<text x="687.8" y="292.6" font-family="'DejaVu Sans','Noto Sans CJK JP',sans-serif" font-size="4.5" font-weight="normal" fill="#7c7c7c" text-anchor="middle" letter-spacing="0.15">37分30秒</text>
<rect x="714.50" y="284.9" width="0.6" height="3" fill="#d5d9f0"/>
<text x="714.8" y="292.6" font-family="'DejaVu Sans','Noto Sans CJK JP',sans-serif" font-size="4.5" font-weight="normal" fill="#7c7c7c" text-anchor="middle" letter-spacing="0.15">41分40秒</text>
<rect x="741.55" y="284.9" width="0.6" height="3" fill="#d5d9f0"/>
<text x="741.9" y="292.6" font-family="'DejaVu Sans','Noto Sans CJK JP',sans-serif" font-size="4.5" font-weight="normal" fill="#7c7c7c" text-anchor="middle" letter-spacing="0.15">45分50秒</text>
<rect x="768.60" y="284.9" width="0.6" height="3" fill="#d5d9f0"/>
<text x="758.9" y="292.6" font-family="'DejaVu Sans','Noto Sans CJK JP',sans-serif" font-size="4.5" font-weight="normal" fill="#7c7c7c" text-anchor="start" letter-spacing="0.15">50分...</text>
<circle cx="524.3" cy="303.3" r="2.4" fill="#ee8558"/>
<text x="529.9" y="305.2" font-family="'DejaVu Sans','Noto Sans CJK JP',sans-serif" font-size="4.7" font-weight="bold" fill="#111" text-anchor="start" letter-spacing="0.1">Member1</text>
<circle cx="566.6" cy="303.3" r="2.4" fill="#5f87c6"/>
<text x="572.2" y="305.2" font-family="'DejaVu Sans','Noto Sans CJK JP',sans-serif" font-size="4.7" font-weight="bold" fill="#111" text-anchor="start" letter-spacing="0.1">Member2</text>
<circle cx="609.0" cy="303.3" r="2.4" fill="#f3be4c"/>
<text x="614.6" y="305.2" font-family="'DejaVu Sans','Noto Sans CJK JP',sans-serif" font-size="4.7" font-weight="bold" fill="#111" text-anchor="start" letter-spacing="0.1">Member3</text>
<circle cx="651.3" cy="303.3" r="2.4" fill="#963d93"/>
<text x="656.9" y="305.2" font-family="'DejaVu Sans','Noto Sans CJK JP',sans-serif" font-size="4.7" font-weight="bold" fill="#111" text-anchor="start" letter-spacing="0.1">Member4</text>
<text x="482.59999999999997" y="345.0" font-family="'DejaVu Sans','Noto Sans CJK JP',sans-serif" font-size="5.85" font-weight="bold" fill="#111" text-anchor="middle" >Member1</text>
<text x="483.7" y="355.3" font-family="'DejaVu Sans','Noto Sans CJK JP',sans-serif" font-size="5.8" font-weight="normal" fill="#666" text-anchor="middle" >発話量</text>
<polygon points="483.4,359.6 464.5,392.3 502.3,392.3" fill="none" stroke="#c6c6c6" stroke-width="0.5"/>
<line x1="483.4" y1="381.4" x2="483.4" y2="359.6" stroke="#dcdcdc" stroke-width="0.45"/>
<line x1="483.4" y1="381.4" x2="464.5" y2="392.3" stroke="#dcdcdc" stroke-width="0.45"/>
<line x1="483.4" y1="381.4" x2="502.3" y2="392.3" stroke="#dcdcdc" stroke-width="0.45"/>
<polygon points="483.4,379.2 476.8,385.2 492.5,386.6" fill="#ee8558" fill-opacity="0.75" stroke="#ee8558" stroke-width="0.6" stroke-linejoin="round"/>
<circle cx="483.4" cy="379.2" r="1.4" fill="#ee8558"/>
<circle cx="476.8" cy="385.2" r="1.4" fill="#ee8558"/>
<circle cx="492.5" cy="386.6" r="1.4" fill="#ee8558"/>
<text x="458.9" y="397.90000000000003" font-family="'DejaVu Sans','Noto Sans CJK JP',sans-serif" font-size="5.8" font-weight="normal" fill="#666" text-anchor="middle" >重なり量</text>
<text x="508.29999999999995" y="397.90000000000003" font-family="'DejaVu Sans','Noto Sans CJK JP',sans-serif" font-size="5.8" font-weight="normal" fill="#666" text-anchor="middle" >盛り上げ量</text>
<text x="600.3000000000001" y="345.0" font-family="'DejaVu Sans','Noto Sans CJK JP',sans-serif" font-size="5.85" font-weight="bold" fill="#111" text-anchor="middle" >Member2</text>
<text x="601.4" y="355.3" font-family="'DejaVu Sans','Noto Sans CJK JP',sans-serif" font-size="5.8" font-weight="normal" fill="#666" text-anchor="middle" >発話量</text>
<polygon points="601.1,359.6 582.2,392.3 620.0,392.3" fill="none" stroke="#c6c6c6" stroke-width="0.5"/>
<line x1="601.1" y1="381.4" x2="601.1" y2="359.6" stroke="#dcdcdc" stroke-width="0.45"/>
<line x1="601.1" y1="381.4" x2="582.2" y2="392.3" stroke="#dcdcdc" stroke-width="0.45"/>
<line x1="601.1" y1="381.4" x2="620.0" y2="392.3" stroke="#dcdcdc" stroke-width="0.45"/>
<polygon points="601.1,359.6 598.5,382.9 611.7,387.5" fill="#5f87c6" fill-opacity="0.75" stroke="#5f87c6" stroke-width="0.6" stroke-linejoin="round"/>
<circle cx="601.1" cy="359.6" r="1.4" fill="#5f87c6"/>
<circle cx="598.5" cy="382.9" r="1.4" fill="#5f87c6"/>
<circle cx="611.7" cy="387.5" r="1.4" fill="#5f87c6"/>
<text x="576.6" y="397.90000000000003" font-family="'DejaVu Sans','Noto Sans CJK JP',sans-serif" font-size="5.8" font-weight="normal" fill="#666" text-anchor="middle" >重なり量</text>
<text x="626.0" y="397.90000000000003" font-family="'DejaVu Sans','Noto Sans CJK JP',sans-serif" font-size="5.8" font-weight="normal" fill="#666" text-anchor="middle" >盛り上げ量</text>
<text x="718.1" y="345.0" font-family="'DejaVu Sans','Noto Sans CJK JP',sans-serif" font-size="5.85" font-weight="bold" fill="#111" text-anchor="middle" >Member3</text>
<text x="719.1999999999999" y="355.3" font-family="'DejaVu Sans','Noto Sans CJK JP',sans-serif" font-size="5.8" font-weight="normal" fill="#666" text-anchor="middle" >発話量</text>
<polygon points="718.9,359.6 700.0,392.3 737.8,392.3" fill="none" stroke="#c6c6c6" stroke-width="0.5"/>
<line x1="718.9" y1="381.4" x2="718.9" y2="359.6" stroke="#dcdcdc" stroke-width="0.45"/>
<line x1="718.9" y1="381.4" x2="700.0" y2="392.3" stroke="#dcdcdc" stroke-width="0.45"/>
<line x1="718.9" y1="381.4" x2="737.8" y2="392.3" stroke="#dcdcdc" stroke-width="0.45"/>
<polygon points="718.9,369.0 700.0,392.3 728.7,387.1" fill="#f3be4c" fill-opacity="0.75" stroke="#f3be4c" stroke-width="0.6" stroke-linejoin="round"/>
<circle cx="718.9" cy="369.0" r="1.4" fill="#f3be4c"/>
<circle cx="700.0" cy="392.3" r="1.4" fill="#f3be4c"/>
<circle cx="728.7" cy="387.1" r="1.4" fill="#f3be4c"/>
<text x="694.4" y="397.90000000000003" font-family="'DejaVu Sans','Noto Sans CJK JP',sans-serif" font-size="5.8" font-weight="normal" fill="#666" text-anchor="middle" >重なり量</text>
<text x="743.8" y="397.90000000000003" font-family="'DejaVu Sans','Noto Sans CJK JP',sans-serif" font-size="5.8" font-weight="normal" fill="#666" text-anchor="middle" >盛り上げ量</text>
<text x="482.59999999999997" y="417.0" font-family="'DejaVu Sans','Noto Sans CJK JP',sans-serif" font-size="5.85" font-weight="bold" fill="#111" text-anchor="middle" >Member4</text>
<text x="483.7" y="427.3" font-family="'DejaVu Sans','Noto Sans CJK JP',sans-serif" font-size="5.8" font-weight="normal" fill="#666" text-anchor="middle" >発話量</text>
<polygon points="483.4,431.6 464.5,464.3 502.3,464.3" fill="none" stroke="#c6c6c6" stroke-width="0.5"/>
<line x1="483.4" y1="453.4" x2="483.4" y2="431.6" stroke="#dcdcdc" stroke-width="0.45"/>
<line x1="483.4" y1="453.4" x2="464.5" y2="464.3" stroke="#dcdcdc" stroke-width="0.45"/>
<line x1="483.4" y1="453.4" x2="502.3" y2="464.3" stroke="#dcdcdc" stroke-width="0.45"/>
<polygon points="483.4,449.9 474.1,458.7 493.2,459.1" fill="#963d93" fill-opacity="0.75" stroke="#963d93" stroke-width="0.6" stroke-linejoin="round"/>
<circle cx="483.4" cy="449.9" r="1.4" fill="#963d93"/>
<circle cx="474.1" cy="458.7" r="1.4" fill="#963d93"/>
<circle cx="493.2" cy="459.1" r="1.4" fill="#963d93"/>
<text x="458.9" y="469.90000000000003" font-family="'DejaVu Sans','Noto Sans CJK JP',sans-serif" font-size="5.8" font-weight="normal" fill="#666" text-anchor="middle" >重なり量</text>
<text x="508.29999999999995" y="469.90000000000003" font-family="'DejaVu Sans','Noto Sans CJK JP',sans-serif" font-size="5.8" font-weight="normal" fill="#666" text-anchor="middle" >盛り上げ量</text>
<text x="600.3" y="496.2" font-family="'DejaVu Sans','Noto Sans CJK JP',sans-serif" font-size="7.6" font-weight="normal" fill="#222" text-anchor="middle" >1</text>
</svg>
</body></html>
